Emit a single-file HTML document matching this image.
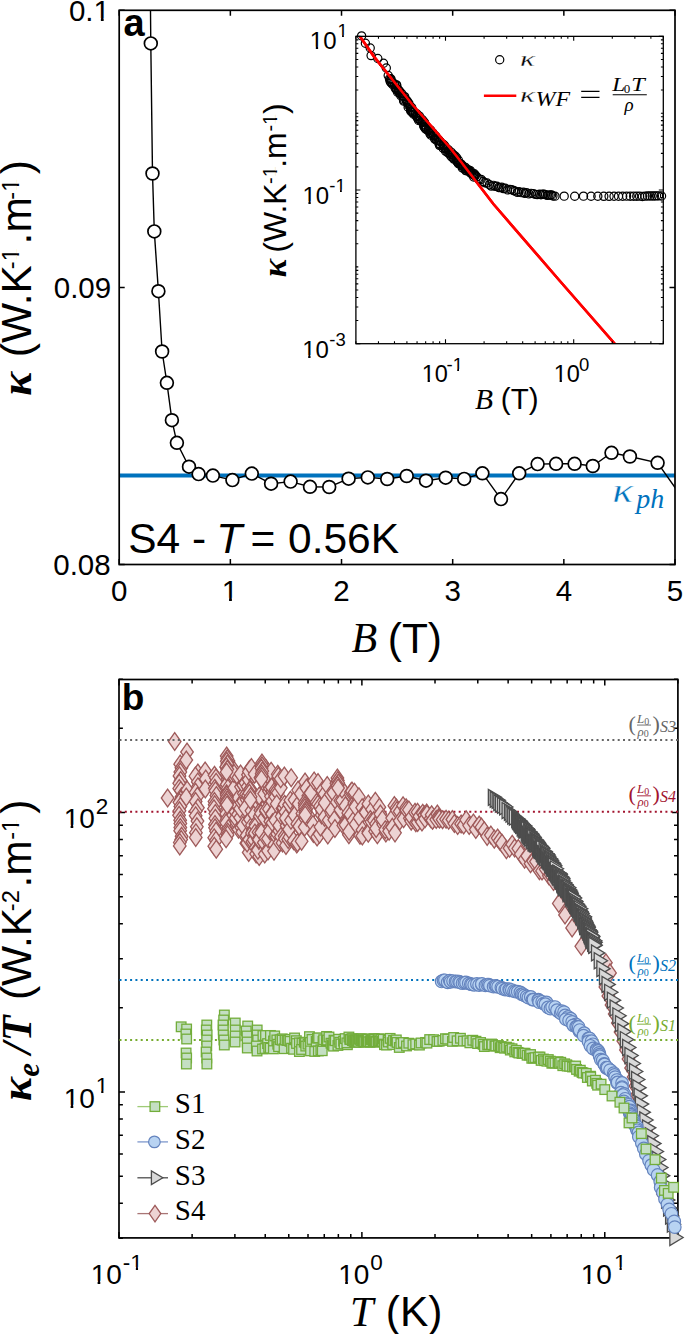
<!DOCTYPE html><html><head><meta charset="utf-8"><style>html,body{margin:0;padding:0;background:#fff;}svg{display:block;}</style></head><body>
<svg width="685" height="1334" viewBox="0 0 685 1334">
<rect x="0" y="0" width="685" height="1334" fill="#fff"/>
<defs><clipPath id="ca"><rect x="119.2" y="10.3" width="555.8" height="554.2"/></clipPath></defs>
<line x1="119.2" y1="475.5" x2="675" y2="475.5" stroke="#0072BD" stroke-width="4"/>
<polyline clip-path="url(#ca)" fill="none" stroke="#000" stroke-width="1.4" points="150.4,0 150.8,43.4 152.5,173.5 154.3,231.4 158.4,291.2 162.1,351.5 166.9,382.8 171.9,420.2 176.9,442.8 189,466.7 198.6,474.1 212.9,475.6 232.4,480.1 251.8,473.6 271.1,483.7 290.6,481.6 310,486.8 329.2,487 348.6,478.7 367.8,477.4 387.2,479 406.7,476 426,480.7 445.7,477.7 464.2,478.9 482.4,473.3 501,499.1 519.2,473.3 537.6,464.1 556.1,463.8 574.6,463.8 592.8,466 611.5,452.8 629.9,456.5 657.6,462.8 700,523"/>
<circle cx="150.8" cy="43.4" r="6.4" fill="#fff" stroke="#000" stroke-width="1.7"/>
<circle cx="152.5" cy="173.5" r="6.4" fill="#fff" stroke="#000" stroke-width="1.7"/>
<circle cx="154.3" cy="231.4" r="6.4" fill="#fff" stroke="#000" stroke-width="1.7"/>
<circle cx="158.4" cy="291.2" r="6.4" fill="#fff" stroke="#000" stroke-width="1.7"/>
<circle cx="162.1" cy="351.5" r="6.4" fill="#fff" stroke="#000" stroke-width="1.7"/>
<circle cx="166.9" cy="382.8" r="6.4" fill="#fff" stroke="#000" stroke-width="1.7"/>
<circle cx="171.9" cy="420.2" r="6.4" fill="#fff" stroke="#000" stroke-width="1.7"/>
<circle cx="176.9" cy="442.8" r="6.4" fill="#fff" stroke="#000" stroke-width="1.7"/>
<circle cx="189" cy="466.7" r="6.4" fill="#fff" stroke="#000" stroke-width="1.7"/>
<circle cx="198.6" cy="474.1" r="6.4" fill="#fff" stroke="#000" stroke-width="1.7"/>
<circle cx="212.9" cy="475.6" r="6.4" fill="#fff" stroke="#000" stroke-width="1.7"/>
<circle cx="232.4" cy="480.1" r="6.4" fill="#fff" stroke="#000" stroke-width="1.7"/>
<circle cx="251.8" cy="473.6" r="6.4" fill="#fff" stroke="#000" stroke-width="1.7"/>
<circle cx="271.1" cy="483.7" r="6.4" fill="#fff" stroke="#000" stroke-width="1.7"/>
<circle cx="290.6" cy="481.6" r="6.4" fill="#fff" stroke="#000" stroke-width="1.7"/>
<circle cx="310" cy="486.8" r="6.4" fill="#fff" stroke="#000" stroke-width="1.7"/>
<circle cx="329.2" cy="487" r="6.4" fill="#fff" stroke="#000" stroke-width="1.7"/>
<circle cx="348.6" cy="478.7" r="6.4" fill="#fff" stroke="#000" stroke-width="1.7"/>
<circle cx="367.8" cy="477.4" r="6.4" fill="#fff" stroke="#000" stroke-width="1.7"/>
<circle cx="387.2" cy="479" r="6.4" fill="#fff" stroke="#000" stroke-width="1.7"/>
<circle cx="406.7" cy="476" r="6.4" fill="#fff" stroke="#000" stroke-width="1.7"/>
<circle cx="426" cy="480.7" r="6.4" fill="#fff" stroke="#000" stroke-width="1.7"/>
<circle cx="445.7" cy="477.7" r="6.4" fill="#fff" stroke="#000" stroke-width="1.7"/>
<circle cx="464.2" cy="478.9" r="6.4" fill="#fff" stroke="#000" stroke-width="1.7"/>
<circle cx="482.4" cy="473.3" r="6.4" fill="#fff" stroke="#000" stroke-width="1.7"/>
<circle cx="501" cy="499.1" r="6.4" fill="#fff" stroke="#000" stroke-width="1.7"/>
<circle cx="519.2" cy="473.3" r="6.4" fill="#fff" stroke="#000" stroke-width="1.7"/>
<circle cx="537.6" cy="464.1" r="6.4" fill="#fff" stroke="#000" stroke-width="1.7"/>
<circle cx="556.1" cy="463.8" r="6.4" fill="#fff" stroke="#000" stroke-width="1.7"/>
<circle cx="574.6" cy="463.8" r="6.4" fill="#fff" stroke="#000" stroke-width="1.7"/>
<circle cx="592.8" cy="466" r="6.4" fill="#fff" stroke="#000" stroke-width="1.7"/>
<circle cx="611.5" cy="452.8" r="6.4" fill="#fff" stroke="#000" stroke-width="1.7"/>
<circle cx="629.9" cy="456.5" r="6.4" fill="#fff" stroke="#000" stroke-width="1.7"/>
<circle cx="657.6" cy="462.8" r="6.4" fill="#fff" stroke="#000" stroke-width="1.7"/>
<rect x="119.2" y="10.3" width="555.8" height="554.2" fill="none" stroke="#000" stroke-width="1.7"/>
<path d="M119.2 564.5V559M119.2 10.3V15.8M230.36 564.5V559M230.36 10.3V15.8M341.52 564.5V559M341.52 10.3V15.8M452.68 564.5V559M452.68 10.3V15.8M563.84 564.5V559M563.84 10.3V15.8M675 564.5V559M675 10.3V15.8M119.2 564.5H124.7M675 564.5H669.5M119.2 287.4H124.7M675 287.4H669.5M119.2 10.3H124.7M675 10.3H669.5" stroke="#000" stroke-width="1.5" fill="none"/>
<text x="111.00" y="600.80" font-family='"Liberation Sans", sans-serif' font-size="29.5" fill="#000">0</text>
<text x="221.75" y="600.80" font-family='"Liberation Sans", sans-serif' font-size="29.5" fill="#000">1</text><path d="M222.80 597.80H229.07V601.90H222.80z M231.88 597.80H237.91V601.90H231.88z" fill="#fff"/>
<text x="333.32" y="600.80" font-family='"Liberation Sans", sans-serif' font-size="29.5" fill="#000">2</text>
<text x="444.56" y="600.80" font-family='"Liberation Sans", sans-serif' font-size="29.5" fill="#000">3</text>
<text x="555.73" y="600.80" font-family='"Liberation Sans", sans-serif' font-size="29.5" fill="#000">4</text>
<text x="666.83" y="600.80" font-family='"Liberation Sans", sans-serif' font-size="29.5" fill="#000">5</text>
<text x="68.95" y="21.00" font-family='"Liberation Sans", sans-serif' font-size="29.5" fill="#000">0.1</text><path d="M94.59 18.00H100.87V22.10H94.59z M103.67 18.00H109.71V22.10H103.67z" fill="#fff"/>
<text x="53.75" y="298.20" font-family='"Liberation Sans", sans-serif' font-size="29.5" fill="#000">0.09</text>
<text x="53.25" y="575.30" font-family='"Liberation Sans", sans-serif' font-size="29.5" fill="#000">0.08</text>
<text x="351.51" y="652.20" font-family='"Liberation Serif", serif' font-size="42" fill="#000" font-style="italic">B</text>
<text x="387.76" y="652.50" font-family='"Liberation Sans", sans-serif' font-size="42.5" fill="#000">(T)</text>
<g transform="translate(30.60,0) rotate(-90)"><text x="-395.71" y="0.00" font-family='"Liberation Serif", serif' font-size="45" fill="#000" font-weight="bold" font-style="italic">κ</text><text x="-357.24" y="0.00" font-family='"Liberation Sans", sans-serif' font-size="42.5" fill="#000">(W.K</text><text x="-269.14" y="-11.40" font-family='"Liberation Sans", sans-serif' font-size="23.5" fill="#000">-1</text><path d="M-260.73 -13.96H-255.51V-10.30H-260.73z M-253.23 -13.96H-248.20V-10.30H-253.23z" fill="#fff"/><text x="-244.38" y="0.00" font-family='"Liberation Sans", sans-serif' font-size="42.5" fill="#000">.m</text><text x="-199.64" y="-11.40" font-family='"Liberation Sans", sans-serif' font-size="23.5" fill="#000">-1</text><path d="M-191.23 -13.96H-186.01V-10.30H-191.23z M-183.73 -13.96H-178.70V-10.30H-183.73z" fill="#fff"/><text x="-174.25" y="0.00" font-family='"Liberation Sans", sans-serif' font-size="42.5" fill="#000">)</text></g>
<text x="123.49" y="35.60" font-family='"Liberation Sans", sans-serif' font-size="38" fill="#000" font-weight="bold">a</text>
<text transform="translate(612.20,502) scale(1.18,0.9)" x="0" y="0" stroke="#fff" stroke-width="0.5" font-family='"Liberation Serif", serif' font-size="37" fill="#0072BD" font-style="italic">κ</text>
<text x="636.14" y="508.20" font-family='"Liberation Serif", serif' font-size="28" fill="#0072BD" font-style="italic">ph</text>
<text x="128.17" y="553.10" font-family='"Liberation Sans", sans-serif' font-size="42.5" fill="#000">S4 -</text>
<text x="216.18" y="553.10" font-family='"Liberation Sans", sans-serif' font-size="42.5" fill="#000" font-style="italic">T</text>
<text x="250.42" y="553.10" font-family='"Liberation Sans", sans-serif' font-size="42.5" fill="#000">=</text>
<text x="288.04" y="553.10" font-family='"Liberation Sans", sans-serif' font-size="42.5" fill="#000">0.56K</text>
<rect x="355.9" y="36.35" width="307.4" height="307.35" fill="#fff"/>
<defs><clipPath id="ci"><rect x="355.9" y="36.35" width="307.4" height="307.35"/></clipPath></defs>
<g clip-path="url(#ci)"><polyline fill="none" stroke="#FF0000" stroke-width="2.6" points="360,36.5 374,56.6 411.9,104 449.9,147.6 460,160.5 493.4,204 559.9,281 615,344 640,373"/></g>
<g fill="none" stroke="#000" stroke-width="1.2">
<circle cx="361.6" cy="35.9" r="4.1"/>
<circle cx="365.4" cy="43.3" r="4.1"/>
<circle cx="370.2" cy="48" r="4.1"/>
<circle cx="371.1" cy="55.6" r="4.1"/>
<circle cx="377.8" cy="58.5" r="4.1"/>
<circle cx="383.5" cy="63.2" r="4.1"/>
<circle cx="386.3" cy="68" r="4.1"/>
<circle cx="388.2" cy="75.5" r="4.1"/>
<circle cx="389.51" cy="78.91" r="4.1"/>
<circle cx="390.09" cy="81.29" r="4.1"/>
<circle cx="390.61" cy="82.12" r="4.1"/>
<circle cx="390.84" cy="78.72" r="4.1"/>
<circle cx="390.9" cy="79.5" r="4.1"/>
<circle cx="391.25" cy="82.83" r="4.1"/>
<circle cx="392.51" cy="84.33" r="4.1"/>
<circle cx="392.62" cy="82.59" r="4.1"/>
<circle cx="394.36" cy="83.83" r="4.1"/>
<circle cx="394.99" cy="85.08" r="4.1"/>
<circle cx="395.17" cy="88.1" r="4.1"/>
<circle cx="396.03" cy="88.31" r="4.1"/>
<circle cx="396.39" cy="89.65" r="4.1"/>
<circle cx="396.63" cy="84.94" r="4.1"/>
<circle cx="396.67" cy="85.75" r="4.1"/>
<circle cx="397.57" cy="92.13" r="4.1"/>
<circle cx="398.28" cy="89.49" r="4.1"/>
<circle cx="398.54" cy="90.46" r="4.1"/>
<circle cx="399.26" cy="92.99" r="4.1"/>
<circle cx="399.73" cy="91.35" r="4.1"/>
<circle cx="400.25" cy="93.56" r="4.1"/>
<circle cx="400.82" cy="95.72" r="4.1"/>
<circle cx="401.69" cy="93.48" r="4.1"/>
<circle cx="402.21" cy="95.97" r="4.1"/>
<circle cx="403.5" cy="100.09" r="4.1"/>
<circle cx="403.52" cy="96.55" r="4.1"/>
<circle cx="403.54" cy="98.51" r="4.1"/>
<circle cx="403.75" cy="101.14" r="4.1"/>
<circle cx="404.7" cy="96.65" r="4.1"/>
<circle cx="406.41" cy="100.38" r="4.1"/>
<circle cx="407.32" cy="102.08" r="4.1"/>
<circle cx="407.33" cy="100.98" r="4.1"/>
<circle cx="407.62" cy="103.21" r="4.1"/>
<circle cx="408.16" cy="107.18" r="4.1"/>
<circle cx="408.66" cy="105.32" r="4.1"/>
<circle cx="408.89" cy="103.39" r="4.1"/>
<circle cx="410.45" cy="106.76" r="4.1"/>
<circle cx="410.64" cy="110.88" r="4.1"/>
<circle cx="411" cy="109.15" r="4.1"/>
<circle cx="411.61" cy="111.21" r="4.1"/>
<circle cx="411.71" cy="111.94" r="4.1"/>
<circle cx="411.73" cy="107.47" r="4.1"/>
<circle cx="412.6" cy="112.6" r="4.1"/>
<circle cx="413.66" cy="114.15" r="4.1"/>
<circle cx="413.78" cy="112.55" r="4.1"/>
<circle cx="415.52" cy="113.73" r="4.1"/>
<circle cx="416.25" cy="116.12" r="4.1"/>
<circle cx="417.01" cy="116.57" r="4.1"/>
<circle cx="417.01" cy="113.99" r="4.1"/>
<circle cx="417.67" cy="118.38" r="4.1"/>
<circle cx="418.28" cy="118.79" r="4.1"/>
<circle cx="418.68" cy="120.55" r="4.1"/>
<circle cx="419.42" cy="116.08" r="4.1"/>
<circle cx="419.84" cy="118.64" r="4.1"/>
<circle cx="420.24" cy="120.35" r="4.1"/>
<circle cx="421.91" cy="121.53" r="4.1"/>
<circle cx="422.46" cy="119.72" r="4.1"/>
<circle cx="422.98" cy="121.92" r="4.1"/>
<circle cx="423.71" cy="126.04" r="4.1"/>
<circle cx="423.97" cy="121.85" r="4.1"/>
<circle cx="423.98" cy="124.73" r="4.1"/>
<circle cx="424.23" cy="126.9" r="4.1"/>
<circle cx="424.6" cy="122.76" r="4.1"/>
<circle cx="425.01" cy="127.02" r="4.1"/>
<circle cx="425.23" cy="128.47" r="4.1"/>
<circle cx="425.8" cy="127.23" r="4.1"/>
<circle cx="425.93" cy="128.74" r="4.1"/>
<circle cx="426.23" cy="129.54" r="4.1"/>
<circle cx="428.02" cy="130.42" r="4.1"/>
<circle cx="428.61" cy="129.08" r="4.1"/>
<circle cx="428.84" cy="130.77" r="4.1"/>
<circle cx="429.84" cy="133.56" r="4.1"/>
<circle cx="430.32" cy="132" r="4.1"/>
<circle cx="430.59" cy="130.15" r="4.1"/>
<circle cx="430.95" cy="133.44" r="4.1"/>
<circle cx="430.95" cy="135.25" r="4.1"/>
<circle cx="432.76" cy="132.88" r="4.1"/>
<circle cx="433.13" cy="135.02" r="4.1"/>
<circle cx="433.59" cy="135.48" r="4.1"/>
<circle cx="433.91" cy="135.95" r="4.1"/>
<circle cx="434.62" cy="138.31" r="4.1"/>
<circle cx="434.88" cy="139.15" r="4.1"/>
<circle cx="435.63" cy="136.13" r="4.1"/>
<circle cx="436.59" cy="139.14" r="4.1"/>
<circle cx="436.72" cy="140.45" r="4.1"/>
<circle cx="438.51" cy="139.88" r="4.1"/>
<circle cx="439.08" cy="143.85" r="4.1"/>
<circle cx="439.42" cy="140.74" r="4.1"/>
<circle cx="439.47" cy="145.37" r="4.1"/>
<circle cx="440.02" cy="144.25" r="4.1"/>
<circle cx="440.04" cy="141.67" r="4.1"/>
<circle cx="440.59" cy="145.3" r="4.1"/>
<circle cx="443" cy="147.89" r="4.1"/>
<circle cx="443.18" cy="144.35" r="4.1"/>
<circle cx="443.39" cy="148.39" r="4.1"/>
<circle cx="443.68" cy="144.94" r="4.1"/>
<circle cx="444.53" cy="145.69" r="4.1"/>
<circle cx="445.02" cy="147.84" r="4.1"/>
<circle cx="445.55" cy="151.09" r="4.1"/>
<circle cx="446.37" cy="148.09" r="4.1"/>
<circle cx="446.42" cy="149.08" r="4.1"/>
<circle cx="447.73" cy="152.77" r="4.1"/>
<circle cx="448.49" cy="149.83" r="4.1"/>
<circle cx="448.75" cy="150.9" r="4.1"/>
<circle cx="448.86" cy="153.12" r="4.1"/>
<circle cx="450.29" cy="154.19" r="4.1"/>
<circle cx="450.73" cy="156.02" r="4.1"/>
<circle cx="451.34" cy="152.35" r="4.1"/>
<circle cx="451.91" cy="157.11" r="4.1"/>
<circle cx="451.96" cy="154.22" r="4.1"/>
<circle cx="453.3" cy="154.65" r="4.1"/>
<circle cx="453.84" cy="159.11" r="4.1"/>
<circle cx="453.85" cy="158.01" r="4.1"/>
<circle cx="454.95" cy="155.91" r="4.1"/>
<circle cx="455.93" cy="159.2" r="4.1"/>
<circle cx="456.45" cy="160.18" r="4.1"/>
<circle cx="456.52" cy="157.53" r="4.1"/>
<circle cx="457.13" cy="161.79" r="4.1"/>
<circle cx="457.58" cy="162.3" r="4.1"/>
<circle cx="458.24" cy="162.87" r="4.1"/>
<circle cx="458.28" cy="160.02" r="4.1"/>
<circle cx="458.43" cy="163.7" r="4.1"/>
<circle cx="459.8" cy="163.9" r="4.1"/>
<circle cx="461" cy="163.89" r="4.1"/>
<circle cx="461.3" cy="164.98" r="4.1"/>
<circle cx="462.29" cy="165.51" r="4.1"/>
<circle cx="462.29" cy="167.95" r="4.1"/>
<circle cx="462.94" cy="166.01" r="4.1"/>
<circle cx="463.07" cy="166.54" r="4.1"/>
<circle cx="463.47" cy="168.23" r="4.1"/>
<circle cx="465.06" cy="168.97" r="4.1"/>
<circle cx="465.56" cy="167.48" r="4.1"/>
<circle cx="465.73" cy="170.59" r="4.1"/>
<circle cx="466.28" cy="168.97" r="4.1"/>
<circle cx="466.73" cy="170.76" r="4.1"/>
<circle cx="468.65" cy="170.91" r="4.1"/>
<circle cx="468.66" cy="169.94" r="4.1"/>
<circle cx="470.03" cy="171.81" r="4.1"/>
<circle cx="470.32" cy="170.67" r="4.1"/>
<circle cx="470.33" cy="172.52" r="4.1"/>
<circle cx="470.83" cy="173.21" r="4.1"/>
<circle cx="471.49" cy="173.63" r="4.1"/>
<circle cx="472.88" cy="173.76" r="4.1"/>
<circle cx="473.67" cy="177.04" r="4.1"/>
<circle cx="473.7" cy="175.08" r="4.1"/>
<circle cx="474.3" cy="173.82" r="4.1"/>
<circle cx="475.25" cy="175.08" r="4.1"/>
<circle cx="475.27" cy="175.81" r="4.1"/>
<circle cx="476.84" cy="176.73" r="4.1"/>
<circle cx="478.87" cy="179.07" r="4.1"/>
<circle cx="481.16" cy="179.41" r="4.1"/>
<circle cx="483.25" cy="181.47" r="4.1"/>
<circle cx="484.7" cy="182.7" r="4.1"/>
<circle cx="487.07" cy="183.07" r="4.1"/>
<circle cx="489.42" cy="184.69" r="4.1"/>
<circle cx="491.25" cy="186.1" r="4.1"/>
<circle cx="493.47" cy="185.34" r="4.1"/>
<circle cx="495.24" cy="186.36" r="4.1"/>
<circle cx="496.92" cy="186.27" r="4.1"/>
<circle cx="498.57" cy="187.53" r="4.1"/>
<circle cx="499.89" cy="187.59" r="4.1"/>
<circle cx="501.67" cy="187.19" r="4.1"/>
<circle cx="503.34" cy="188.58" r="4.1"/>
<circle cx="505.2" cy="188.15" r="4.1"/>
<circle cx="507.58" cy="189.89" r="4.1"/>
<circle cx="509.95" cy="189.38" r="4.1"/>
<circle cx="511.54" cy="189.67" r="4.1"/>
<circle cx="513.7" cy="190.57" r="4.1"/>
<circle cx="515.14" cy="191.17" r="4.1"/>
<circle cx="517.45" cy="192.38" r="4.1"/>
<circle cx="519.03" cy="191.63" r="4.1"/>
<circle cx="521.34" cy="192.66" r="4.1"/>
<circle cx="523.41" cy="192.2" r="4.1"/>
<circle cx="524.78" cy="193.36" r="4.1"/>
<circle cx="526.54" cy="192.64" r="4.1"/>
<circle cx="528.88" cy="193.89" r="4.1"/>
<circle cx="531.06" cy="193.34" r="4.1"/>
<circle cx="533.3" cy="193.62" r="4.1"/>
<circle cx="535.55" cy="194.35" r="4.1"/>
<circle cx="537.22" cy="194.59" r="4.1"/>
<circle cx="539.54" cy="194.24" r="4.1"/>
<circle cx="540.98" cy="194.73" r="4.1"/>
<circle cx="542.55" cy="194.13" r="4.1"/>
<circle cx="544.02" cy="194.11" r="4.1"/>
<circle cx="545.55" cy="194.6" r="4.1"/>
<circle cx="547.18" cy="195.4" r="4.1"/>
<circle cx="548.8" cy="195.13" r="4.1"/>
<circle cx="550.3" cy="195.05" r="4.1"/>
<circle cx="551.62" cy="195.05" r="4.1"/>
<circle cx="552.93" cy="195.97" r="4.1"/>
<circle cx="554.96" cy="196.14" r="4.1"/>
<circle cx="564.18" cy="196.16" r="4.1"/>
<circle cx="574.71" cy="196.22" r="4.1"/>
<circle cx="583.52" cy="196.13" r="4.1"/>
<circle cx="591.08" cy="196.28" r="4.1"/>
<circle cx="597.81" cy="196.25" r="4.1"/>
<circle cx="603.77" cy="196.32" r="4.1"/>
<circle cx="609.11" cy="196.32" r="4.1"/>
<circle cx="614.03" cy="196.2" r="4.1"/>
<circle cx="618.51" cy="196.19" r="4.1"/>
<circle cx="622.69" cy="196.21" r="4.1"/>
<circle cx="626.6" cy="196.17" r="4.1"/>
<circle cx="630.22" cy="196.23" r="4.1"/>
<circle cx="633.68" cy="196.19" r="4.1"/>
<circle cx="636.75" cy="196.21" r="4.1"/>
<circle cx="639.61" cy="196.13" r="4.1"/>
<circle cx="642.39" cy="196.5" r="4.1"/>
<circle cx="644.99" cy="196.13" r="4.1"/>
<circle cx="647.49" cy="195.99" r="4.1"/>
<circle cx="649.9" cy="195.99" r="4.1"/>
<circle cx="652.21" cy="195.99" r="4.1"/>
<circle cx="654.39" cy="196.02" r="4.1"/>
<circle cx="656.55" cy="195.83" r="4.1"/>
<circle cx="658.59" cy="195.88" r="4.1"/>
<circle cx="661.53" cy="195.97" r="4.1"/>
</g>
<g clip-path="url(#ci)"><polyline fill="none" stroke="#FF0000" stroke-width="2.6" points="360,36.5 374,56.6 411.9,104 449.9,147.6 460,160.5 493.4,204 559.9,281 615,344 640,373"/></g>
<rect x="355.9" y="36.35" width="307.4" height="307.35" fill="none" stroke="#000" stroke-width="1.3"/>
<path d="M355.9 343.7V341.3M355.9 36.35V38.75M378.47 343.7V341.3M378.47 36.35V38.75M394.49 343.7V341.3M394.49 36.35V38.75M406.91 343.7V341.3M406.91 36.35V38.75M417.06 343.7V341.3M417.06 36.35V38.75M425.65 343.7V341.3M425.65 36.35V38.75M433.08 343.7V341.3M433.08 36.35V38.75M439.64 343.7V341.3M439.64 36.35V38.75M445.5 343.7V339.2M445.5 36.35V40.85M484.09 343.7V341.3M484.09 36.35V38.75M506.67 343.7V341.3M506.67 36.35V38.75M522.68 343.7V341.3M522.68 36.35V38.75M535.11 343.7V341.3M535.11 36.35V38.75M545.26 343.7V341.3M545.26 36.35V38.75M553.84 343.7V341.3M553.84 36.35V38.75M561.27 343.7V341.3M561.27 36.35V38.75M567.83 343.7V341.3M567.83 36.35V38.75M573.7 343.7V339.2M573.7 36.35V40.85M612.29 343.7V341.3M612.29 36.35V38.75M634.86 343.7V341.3M634.86 36.35V38.75M650.88 343.7V341.3M650.88 36.35V38.75M663.3 343.7V341.3M663.3 36.35V38.75M355.9 343.7H360.4M663.3 343.7H658.8M355.9 320.57H358.3M663.3 320.57H660.9M355.9 307.04H358.3M663.3 307.04H660.9M355.9 297.44H358.3M663.3 297.44H660.9M355.9 289.99H358.3M663.3 289.99H660.9M355.9 283.91H358.3M663.3 283.91H660.9M355.9 278.76H358.3M663.3 278.76H660.9M355.9 274.31H358.3M663.3 274.31H660.9M355.9 270.38H358.3M663.3 270.38H660.9M355.9 266.86H358.3M663.3 266.86H660.9M355.9 266.86H358.3M663.3 266.86H660.9M355.9 243.73H358.3M663.3 243.73H660.9M355.9 230.2H358.3M663.3 230.2H660.9M355.9 220.6H358.3M663.3 220.6H660.9M355.9 213.16H358.3M663.3 213.16H660.9M355.9 207.07H358.3M663.3 207.07H660.9M355.9 201.93H358.3M663.3 201.93H660.9M355.9 197.47H358.3M663.3 197.47H660.9M355.9 193.54H358.3M663.3 193.54H660.9M355.9 190.02H358.3M663.3 190.02H660.9M355.9 190.02H360.4M663.3 190.02H658.8M355.9 166.89H358.3M663.3 166.89H660.9M355.9 153.36H358.3M663.3 153.36H660.9M355.9 143.76H358.3M663.3 143.76H660.9M355.9 136.32H358.3M663.3 136.32H660.9M355.9 130.23H358.3M663.3 130.23H660.9M355.9 125.09H358.3M663.3 125.09H660.9M355.9 120.63H358.3M663.3 120.63H660.9M355.9 116.7H358.3M663.3 116.7H660.9M355.9 113.19H358.3M663.3 113.19H660.9M355.9 113.19H358.3M663.3 113.19H660.9M355.9 90.06H358.3M663.3 90.06H660.9M355.9 76.53H358.3M663.3 76.53H660.9M355.9 66.93H358.3M663.3 66.93H660.9M355.9 59.48H358.3M663.3 59.48H660.9M355.9 53.4H358.3M663.3 53.4H660.9M355.9 48.25H358.3M663.3 48.25H660.9M355.9 43.8H358.3M663.3 43.8H660.9M355.9 39.87H358.3M663.3 39.87H660.9M355.9 36.35H360.4M663.3 36.35H658.8" stroke="#000" stroke-width="1.1" fill="none"/>
<text x="309.87" y="49.30" font-family='"Liberation Sans", sans-serif' font-size="24" fill="#000">10</text><path d="M310.50 46.71H315.81V50.40H310.50z M318.13 46.71H323.24V50.40H318.13z" fill="#fff"/><text x="337.49" y="37.20" font-family='"Liberation Sans", sans-serif' font-size="18.5" fill="#000">1</text><path d="M337.70 35.02H342.04V38.30H337.70z M343.88 35.02H348.07V38.30H343.88z" fill="#fff"/>
<text x="302.47" y="203.90" font-family='"Liberation Sans", sans-serif' font-size="24" fill="#000">10</text><path d="M303.10 201.31H308.41V205.00H303.10z M310.73 201.31H315.84V205.00H310.73z" fill="#fff"/><text x="329.28" y="192.00" font-family='"Liberation Sans", sans-serif' font-size="18.5" fill="#000">-1</text><path d="M335.64 189.82H339.99V193.10H335.64z M341.82 189.82H346.02V193.10H341.82z" fill="#fff"/>
<text x="302.27" y="357.50" font-family='"Liberation Sans", sans-serif' font-size="24" fill="#000">10</text><path d="M302.90 354.91H308.21V358.60H302.90z M310.53 354.91H315.64V358.60H310.53z" fill="#fff"/><text x="329.28" y="345.60" font-family='"Liberation Sans", sans-serif' font-size="18.5" fill="#000">-3</text>
<text x="421.81" y="382.30" font-family='"Liberation Sans", sans-serif' font-size="23.5" fill="#000">10</text><path d="M422.40 379.74H427.62V383.40H422.40z M429.90 379.74H434.92V383.40H429.90z" fill="#fff"/><text x="446.48" y="371.30" font-family='"Liberation Sans", sans-serif' font-size="18.5" fill="#000">-1</text><path d="M452.84 369.12H457.19V372.40H452.84z M459.02 369.12H463.22V372.40H459.02z" fill="#fff"/>
<text x="553.81" y="382.30" font-family='"Liberation Sans", sans-serif' font-size="23.5" fill="#000">10</text><path d="M554.40 379.74H559.62V383.40H554.40z M561.90 379.74H566.92V383.40H561.90z" fill="#fff"/><text x="579.08" y="371.30" font-family='"Liberation Sans", sans-serif' font-size="18.5" fill="#000">0</text>
<text x="475.03" y="409.00" font-family='"Liberation Serif", serif' font-size="29.5" fill="#000" font-style="italic">B</text>
<text x="500.87" y="409.00" font-family='"Liberation Sans", sans-serif' font-size="29.5" fill="#000">(T)</text>
<g transform="translate(285.80,0) rotate(-90)"><text x="-277.27" y="0.00" font-family='"Liberation Serif", serif' font-size="34.5" fill="#000" font-weight="bold" font-style="italic">κ</text><text x="-252.68" y="0.00" font-family='"Liberation Sans", sans-serif' font-size="32" fill="#000">(W.K</text><text x="-183.99" y="-8.40" font-family='"Liberation Sans", sans-serif' font-size="20" fill="#000">-1</text><path d="M-177.01 -10.69H-172.40V-7.30H-177.01z M-170.43 -10.69H-165.99V-7.30H-170.43z" fill="#fff"/><text x="-167.82" y="0.00" font-family='"Liberation Sans", sans-serif' font-size="32" fill="#000">.m</text><text x="-131.59" y="-8.40" font-family='"Liberation Sans", sans-serif' font-size="20" fill="#000">-1</text><path d="M-124.61 -10.69H-120.00V-7.30H-124.61z M-118.03 -10.69H-113.59V-7.30H-118.03z" fill="#fff"/><text x="-114.09" y="0.00" font-family='"Liberation Sans", sans-serif' font-size="32" fill="#000">)</text></g>
<circle cx="499.7" cy="59.7" r="4.1" fill="none" stroke="#000" stroke-width="1.2"/>
<text transform="translate(520.0,66.3) scale(1.3,0.88)" x="0" y="0" stroke="#fff" stroke-width="0.3" font-family='"Liberation Serif", serif' font-size="24" fill="#000" font-style="italic">κ</text>
<line x1="483.9" y1="95.7" x2="516.3" y2="95.7" stroke="#FF0000" stroke-width="2.4"/>
<text transform="translate(520.0,101.7) scale(1.3,0.88)" x="0" y="0" stroke="#fff" stroke-width="0.3" font-family='"Liberation Serif", serif' font-size="24" fill="#000" font-style="italic">κ</text>
<text x="535.5" y="105.5" font-family='"Liberation Serif", serif' font-size="20" fill="#000" font-style="italic" textLength="34.5" lengthAdjust="spacingAndGlyphs">WF</text>
<path d="M581.2 91.3H599.5M581.2 97.4H599.5" stroke="#000" stroke-width="1.2"/>
<text x="612.3" y="91.2" font-family='"Liberation Serif", serif' font-size="19" fill="#000" font-style="italic" textLength="13" lengthAdjust="spacingAndGlyphs">L</text>
<text x="623.70" y="93.40" font-family='"Liberation Serif", serif' font-size="13" fill="#000">0</text>
<text x="631.2" y="91.2" font-family='"Liberation Serif", serif' font-size="19" fill="#000" font-style="italic" textLength="13.5" lengthAdjust="spacingAndGlyphs">T</text>
<line x1="612.7" y1="94.7" x2="646.8" y2="94.7" stroke="#000" stroke-width="1.1"/>
<text x="624.48" y="110.50" font-family='"Liberation Serif", serif' font-size="19" fill="#000" font-style="italic">ρ</text>
<defs><clipPath id="cb"><rect x="119" y="679.5" width="558.9" height="558.4"/></clipPath></defs>
<rect x="119" y="679.5" width="558.9" height="558.4" fill="none" stroke="#000" stroke-width="1.7"/>
<path d="M119 1237.9V1231.9M119 679.5V685.5M192.12 1237.9V1234M192.12 679.5V683.4M234.89 1237.9V1234M234.89 679.5V683.4M265.24 1237.9V1234M265.24 679.5V683.4M288.77 1237.9V1234M288.77 679.5V683.4M308.01 1237.9V1234M308.01 679.5V683.4M324.27 1237.9V1234M324.27 679.5V683.4M338.35 1237.9V1234M338.35 679.5V683.4M350.78 1237.9V1234M350.78 679.5V683.4M361.89 1237.9V1231.9M361.89 679.5V685.5M435.01 1237.9V1234M435.01 679.5V683.4M477.78 1237.9V1234M477.78 679.5V683.4M508.13 1237.9V1234M508.13 679.5V683.4M531.66 1237.9V1234M531.66 679.5V683.4M550.9 1237.9V1234M550.9 679.5V683.4M567.16 1237.9V1234M567.16 679.5V683.4M581.24 1237.9V1234M581.24 679.5V683.4M593.67 1237.9V1234M593.67 679.5V683.4M604.78 1237.9V1231.9M604.78 679.5V685.5M677.9 1237.9V1234M677.9 679.5V683.4M119 1238.14H122.9M677.9 1238.14H674M119 1203.22H122.9M677.9 1203.22H674M119 1176.14H122.9M677.9 1176.14H674M119 1154.01H122.9M677.9 1154.01H674M119 1135.3H122.9M677.9 1135.3H674M119 1119.09H122.9M677.9 1119.09H674M119 1104.79H122.9M677.9 1104.79H674M119 1092H125M677.9 1092H671.9M119 1007.86H122.9M677.9 1007.86H674M119 958.64H122.9M677.9 958.64H674M119 923.72H122.9M677.9 923.72H674M119 896.64H122.9M677.9 896.64H674M119 874.51H122.9M677.9 874.51H674M119 855.8H122.9M677.9 855.8H674M119 839.59H122.9M677.9 839.59H674M119 825.29H122.9M677.9 825.29H674M119 812.5H125M677.9 812.5H671.9M119 728.36H122.9M677.9 728.36H674M119 679.14H122.9M677.9 679.14H674" stroke="#000" stroke-width="1.5" fill="none"/>
<line x1="119.5" y1="811.7" x2="677.9" y2="811.7" stroke="#A2142F" stroke-width="2" stroke-dasharray="2 3.3"/>
<g><g fill="#EDD3D3" stroke="#9E5A5A" stroke-width="1.3">
<path d="M174.7 732.6l6.3 8.9l-6.3 8.9l-6.3 -8.9z"/>
<path d="M167.6 789.1l6.3 8.9l-6.3 8.9l-6.3 -8.9z"/>
<path d="M180.18 755.24l6.3 8.9l-6.3 8.9l-6.3 -8.9z"/>
<path d="M181.4 758.97l6.3 8.9l-6.3 8.9l-6.3 -8.9z"/>
<path d="M180.32 763.21l6.3 8.9l-6.3 8.9l-6.3 -8.9z"/>
<path d="M179.48 766.99l6.3 8.9l-6.3 8.9l-6.3 -8.9z"/>
<path d="M180.64 771.6l6.3 8.9l-6.3 8.9l-6.3 -8.9z"/>
<path d="M179.24 774.4l6.3 8.9l-6.3 8.9l-6.3 -8.9z"/>
<path d="M179.24 779.55l6.3 8.9l-6.3 8.9l-6.3 -8.9z"/>
<path d="M180.8 781.68l6.3 8.9l-6.3 8.9l-6.3 -8.9z"/>
<path d="M181.55 787.82l6.3 8.9l-6.3 8.9l-6.3 -8.9z"/>
<path d="M180.7 790.95l6.3 8.9l-6.3 8.9l-6.3 -8.9z"/>
<path d="M179.41 793.47l6.3 8.9l-6.3 8.9l-6.3 -8.9z"/>
<path d="M180.37 797.53l6.3 8.9l-6.3 8.9l-6.3 -8.9z"/>
<path d="M179.49 801.92l6.3 8.9l-6.3 8.9l-6.3 -8.9z"/>
<path d="M179.08 806.4l6.3 8.9l-6.3 8.9l-6.3 -8.9z"/>
<path d="M180.15 811.25l6.3 8.9l-6.3 8.9l-6.3 -8.9z"/>
<path d="M180.35 814.72l6.3 8.9l-6.3 8.9l-6.3 -8.9z"/>
<path d="M180.3 818.72l6.3 8.9l-6.3 8.9l-6.3 -8.9z"/>
<path d="M180.19 821.76l6.3 8.9l-6.3 8.9l-6.3 -8.9z"/>
<path d="M181.59 827.42l6.3 8.9l-6.3 8.9l-6.3 -8.9z"/>
<path d="M181.18 830.69l6.3 8.9l-6.3 8.9l-6.3 -8.9z"/>
<path d="M179.82 833.51l6.3 8.9l-6.3 8.9l-6.3 -8.9z"/>
<path d="M179.75 837.08l6.3 8.9l-6.3 8.9l-6.3 -8.9z"/>
<path d="M187.03 743.1l6.3 8.9l-6.3 8.9l-6.3 -8.9z"/>
<path d="M186.3 751.1l6.3 8.9l-6.3 8.9l-6.3 -8.9z"/>
<path d="M187.19 781.1l6.3 8.9l-6.3 8.9l-6.3 -8.9z"/>
<path d="M186.27 788.1l6.3 8.9l-6.3 8.9l-6.3 -8.9z"/>
<path d="M197.89 764.14l6.3 8.9l-6.3 8.9l-6.3 -8.9z"/>
<path d="M195.4 767.23l6.3 8.9l-6.3 8.9l-6.3 -8.9z"/>
<path d="M197.77 773.01l6.3 8.9l-6.3 8.9l-6.3 -8.9z"/>
<path d="M197.95 777.79l6.3 8.9l-6.3 8.9l-6.3 -8.9z"/>
<path d="M195.59 783.49l6.3 8.9l-6.3 8.9l-6.3 -8.9z"/>
<path d="M197.42 787.41l6.3 8.9l-6.3 8.9l-6.3 -8.9z"/>
<path d="M195.63 792.6l6.3 8.9l-6.3 8.9l-6.3 -8.9z"/>
<path d="M197.91 798.87l6.3 8.9l-6.3 8.9l-6.3 -8.9z"/>
<path d="M195.71 802.34l6.3 8.9l-6.3 8.9l-6.3 -8.9z"/>
<path d="M195.66 806.78l6.3 8.9l-6.3 8.9l-6.3 -8.9z"/>
<path d="M197.47 812.13l6.3 8.9l-6.3 8.9l-6.3 -8.9z"/>
<path d="M196.85 817.94l6.3 8.9l-6.3 8.9l-6.3 -8.9z"/>
<path d="M195.9 823.8l6.3 8.9l-6.3 8.9l-6.3 -8.9z"/>
<path d="M195.74 828.53l6.3 8.9l-6.3 8.9l-6.3 -8.9z"/>
<path d="M205.13 762.1l6.3 8.9l-6.3 8.9l-6.3 -8.9z"/>
<path d="M205.74 770.1l6.3 8.9l-6.3 8.9l-6.3 -8.9z"/>
<path d="M205.33 780.1l6.3 8.9l-6.3 8.9l-6.3 -8.9z"/>
<path d="M214.5 766.36l6.3 8.9l-6.3 8.9l-6.3 -8.9z"/>
<path d="M215.89 769.05l6.3 8.9l-6.3 8.9l-6.3 -8.9z"/>
<path d="M216.1 773.27l6.3 8.9l-6.3 8.9l-6.3 -8.9z"/>
<path d="M214.83 779.46l6.3 8.9l-6.3 8.9l-6.3 -8.9z"/>
<path d="M215.47 781.91l6.3 8.9l-6.3 8.9l-6.3 -8.9z"/>
<path d="M216.37 786.68l6.3 8.9l-6.3 8.9l-6.3 -8.9z"/>
<path d="M214.47 792.65l6.3 8.9l-6.3 8.9l-6.3 -8.9z"/>
<path d="M214.66 795.85l6.3 8.9l-6.3 8.9l-6.3 -8.9z"/>
<path d="M213.99 799.77l6.3 8.9l-6.3 8.9l-6.3 -8.9z"/>
<path d="M215.32 804.65l6.3 8.9l-6.3 8.9l-6.3 -8.9z"/>
<path d="M215.36 809.46l6.3 8.9l-6.3 8.9l-6.3 -8.9z"/>
<path d="M214.98 815.51l6.3 8.9l-6.3 8.9l-6.3 -8.9z"/>
<path d="M215.06 818.95l6.3 8.9l-6.3 8.9l-6.3 -8.9z"/>
<path d="M216.05 822.37l6.3 8.9l-6.3 8.9l-6.3 -8.9z"/>
<path d="M214.2 828.78l6.3 8.9l-6.3 8.9l-6.3 -8.9z"/>
<path d="M215.93 831.49l6.3 8.9l-6.3 8.9l-6.3 -8.9z"/>
<path d="M214.29 837.27l6.3 8.9l-6.3 8.9l-6.3 -8.9z"/>
<path d="M216.25 840.29l6.3 8.9l-6.3 8.9l-6.3 -8.9z"/>
<path d="M228.47 752.07l6.3 8.9l-6.3 8.9l-6.3 -8.9z"/>
<path d="M227.57 755.11l6.3 8.9l-6.3 8.9l-6.3 -8.9z"/>
<path d="M226.27 758.36l6.3 8.9l-6.3 8.9l-6.3 -8.9z"/>
<path d="M228.5 763.07l6.3 8.9l-6.3 8.9l-6.3 -8.9z"/>
<path d="M227.83 767.33l6.3 8.9l-6.3 8.9l-6.3 -8.9z"/>
<path d="M228.14 772.4l6.3 8.9l-6.3 8.9l-6.3 -8.9z"/>
<path d="M226.76 775.54l6.3 8.9l-6.3 8.9l-6.3 -8.9z"/>
<path d="M227.87 779.48l6.3 8.9l-6.3 8.9l-6.3 -8.9z"/>
<path d="M226.59 784.93l6.3 8.9l-6.3 8.9l-6.3 -8.9z"/>
<path d="M228.22 789.28l6.3 8.9l-6.3 8.9l-6.3 -8.9z"/>
<path d="M226.73 794.26l6.3 8.9l-6.3 8.9l-6.3 -8.9z"/>
<path d="M226.53 796.19l6.3 8.9l-6.3 8.9l-6.3 -8.9z"/>
<path d="M226.7 801.49l6.3 8.9l-6.3 8.9l-6.3 -8.9z"/>
<path d="M226.16 805.02l6.3 8.9l-6.3 8.9l-6.3 -8.9z"/>
<path d="M226.96 810.23l6.3 8.9l-6.3 8.9l-6.3 -8.9z"/>
<path d="M226.34 813.91l6.3 8.9l-6.3 8.9l-6.3 -8.9z"/>
<path d="M228.32 819.68l6.3 8.9l-6.3 8.9l-6.3 -8.9z"/>
<path d="M227.71 823.16l6.3 8.9l-6.3 8.9l-6.3 -8.9z"/>
<path d="M227.52 825.98l6.3 8.9l-6.3 8.9l-6.3 -8.9z"/>
<path d="M226.09 829.88l6.3 8.9l-6.3 8.9l-6.3 -8.9z"/>
<path d="M233.82 803.92l6.3 8.9l-6.3 8.9l-6.3 -8.9z"/>
<path d="M233.93 761.19l6.3 8.9l-6.3 8.9l-6.3 -8.9z"/>
<path d="M233.27 790.17l6.3 8.9l-6.3 8.9l-6.3 -8.9z"/>
<path d="M233.46 779.9l6.3 8.9l-6.3 8.9l-6.3 -8.9z"/>
<path d="M234 764.58l6.3 8.9l-6.3 8.9l-6.3 -8.9z"/>
<path d="M233.09 806.19l6.3 8.9l-6.3 8.9l-6.3 -8.9z"/>
<path d="M236.32 803.98l6.3 8.9l-6.3 8.9l-6.3 -8.9z"/>
<path d="M236.44 816.58l6.3 8.9l-6.3 8.9l-6.3 -8.9z"/>
<path d="M235.55 802.87l6.3 8.9l-6.3 8.9l-6.3 -8.9z"/>
<path d="M236.65 813.96l6.3 8.9l-6.3 8.9l-6.3 -8.9z"/>
<path d="M235.68 809.16l6.3 8.9l-6.3 8.9l-6.3 -8.9z"/>
<path d="M236.58 796.17l6.3 8.9l-6.3 8.9l-6.3 -8.9z"/>
<path d="M238.05 796.99l6.3 8.9l-6.3 8.9l-6.3 -8.9z"/>
<path d="M238.51 768.38l6.3 8.9l-6.3 8.9l-6.3 -8.9z"/>
<path d="M238.57 820.36l6.3 8.9l-6.3 8.9l-6.3 -8.9z"/>
<path d="M239.05 805.27l6.3 8.9l-6.3 8.9l-6.3 -8.9z"/>
<path d="M238.06 805.66l6.3 8.9l-6.3 8.9l-6.3 -8.9z"/>
<path d="M238.45 788.89l6.3 8.9l-6.3 8.9l-6.3 -8.9z"/>
<path d="M240.21 808.61l6.3 8.9l-6.3 8.9l-6.3 -8.9z"/>
<path d="M240.1 799.83l6.3 8.9l-6.3 8.9l-6.3 -8.9z"/>
<path d="M241.01 777.94l6.3 8.9l-6.3 8.9l-6.3 -8.9z"/>
<path d="M241.44 793.69l6.3 8.9l-6.3 8.9l-6.3 -8.9z"/>
<path d="M241.27 818.65l6.3 8.9l-6.3 8.9l-6.3 -8.9z"/>
<path d="M240.56 765.04l6.3 8.9l-6.3 8.9l-6.3 -8.9z"/>
<path d="M243.35 776.45l6.3 8.9l-6.3 8.9l-6.3 -8.9z"/>
<path d="M242.34 823.13l6.3 8.9l-6.3 8.9l-6.3 -8.9z"/>
<path d="M243.32 792.34l6.3 8.9l-6.3 8.9l-6.3 -8.9z"/>
<path d="M243.78 784.71l6.3 8.9l-6.3 8.9l-6.3 -8.9z"/>
<path d="M243.33 776.18l6.3 8.9l-6.3 8.9l-6.3 -8.9z"/>
<path d="M242.86 816.51l6.3 8.9l-6.3 8.9l-6.3 -8.9z"/>
<path d="M246.63 790.71l6.3 8.9l-6.3 8.9l-6.3 -8.9z"/>
<path d="M246.03 785.46l6.3 8.9l-6.3 8.9l-6.3 -8.9z"/>
<path d="M245.14 799.37l6.3 8.9l-6.3 8.9l-6.3 -8.9z"/>
<path d="M246.54 826.6l6.3 8.9l-6.3 8.9l-6.3 -8.9z"/>
<path d="M246.29 834.43l6.3 8.9l-6.3 8.9l-6.3 -8.9z"/>
<path d="M245.42 774.07l6.3 8.9l-6.3 8.9l-6.3 -8.9z"/>
<path d="M247.59 777.79l6.3 8.9l-6.3 8.9l-6.3 -8.9z"/>
<path d="M247.87 813.01l6.3 8.9l-6.3 8.9l-6.3 -8.9z"/>
<path d="M248.03 786.45l6.3 8.9l-6.3 8.9l-6.3 -8.9z"/>
<path d="M248.72 843.5l6.3 8.9l-6.3 8.9l-6.3 -8.9z"/>
<path d="M247.95 765.86l6.3 8.9l-6.3 8.9l-6.3 -8.9z"/>
<path d="M247.11 834.16l6.3 8.9l-6.3 8.9l-6.3 -8.9z"/>
<path d="M250.02 810.59l6.3 8.9l-6.3 8.9l-6.3 -8.9z"/>
<path d="M249.22 830.8l6.3 8.9l-6.3 8.9l-6.3 -8.9z"/>
<path d="M248.64 770.81l6.3 8.9l-6.3 8.9l-6.3 -8.9z"/>
<path d="M249.52 760.64l6.3 8.9l-6.3 8.9l-6.3 -8.9z"/>
<path d="M250.27 780.1l6.3 8.9l-6.3 8.9l-6.3 -8.9z"/>
<path d="M248.89 762.67l6.3 8.9l-6.3 8.9l-6.3 -8.9z"/>
<path d="M251.94 816.28l6.3 8.9l-6.3 8.9l-6.3 -8.9z"/>
<path d="M252.36 832.81l6.3 8.9l-6.3 8.9l-6.3 -8.9z"/>
<path d="M252.97 821.36l6.3 8.9l-6.3 8.9l-6.3 -8.9z"/>
<path d="M251.45 801.86l6.3 8.9l-6.3 8.9l-6.3 -8.9z"/>
<path d="M251.41 758.59l6.3 8.9l-6.3 8.9l-6.3 -8.9z"/>
<path d="M251.99 824.13l6.3 8.9l-6.3 8.9l-6.3 -8.9z"/>
<path d="M253.36 789.41l6.3 8.9l-6.3 8.9l-6.3 -8.9z"/>
<path d="M254.21 805.71l6.3 8.9l-6.3 8.9l-6.3 -8.9z"/>
<path d="M254.05 827.71l6.3 8.9l-6.3 8.9l-6.3 -8.9z"/>
<path d="M253.61 831.05l6.3 8.9l-6.3 8.9l-6.3 -8.9z"/>
<path d="M254.63 765.28l6.3 8.9l-6.3 8.9l-6.3 -8.9z"/>
<path d="M254.68 824.56l6.3 8.9l-6.3 8.9l-6.3 -8.9z"/>
<path d="M255.42 815.18l6.3 8.9l-6.3 8.9l-6.3 -8.9z"/>
<path d="M256.33 791.94l6.3 8.9l-6.3 8.9l-6.3 -8.9z"/>
<path d="M255.65 838.9l6.3 8.9l-6.3 8.9l-6.3 -8.9z"/>
<path d="M256.11 844.97l6.3 8.9l-6.3 8.9l-6.3 -8.9z"/>
<path d="M255.44 817.59l6.3 8.9l-6.3 8.9l-6.3 -8.9z"/>
<path d="M254.92 824.19l6.3 8.9l-6.3 8.9l-6.3 -8.9z"/>
<path d="M258.52 823.28l6.3 8.9l-6.3 8.9l-6.3 -8.9z"/>
<path d="M257.67 840.36l6.3 8.9l-6.3 8.9l-6.3 -8.9z"/>
<path d="M259.2 847.61l6.3 8.9l-6.3 8.9l-6.3 -8.9z"/>
<path d="M258.32 830.13l6.3 8.9l-6.3 8.9l-6.3 -8.9z"/>
<path d="M257.88 841.29l6.3 8.9l-6.3 8.9l-6.3 -8.9z"/>
<path d="M258.95 788.69l6.3 8.9l-6.3 8.9l-6.3 -8.9z"/>
<path d="M259.75 807.26l6.3 8.9l-6.3 8.9l-6.3 -8.9z"/>
<path d="M260.4 801.37l6.3 8.9l-6.3 8.9l-6.3 -8.9z"/>
<path d="M258.92 831.55l6.3 8.9l-6.3 8.9l-6.3 -8.9z"/>
<path d="M258.99 830.68l6.3 8.9l-6.3 8.9l-6.3 -8.9z"/>
<path d="M259.21 787.06l6.3 8.9l-6.3 8.9l-6.3 -8.9z"/>
<path d="M260.44 768.82l6.3 8.9l-6.3 8.9l-6.3 -8.9z"/>
<path d="M261.62 823.19l6.3 8.9l-6.3 8.9l-6.3 -8.9z"/>
<path d="M262.27 819.98l6.3 8.9l-6.3 8.9l-6.3 -8.9z"/>
<path d="M262.48 801.49l6.3 8.9l-6.3 8.9l-6.3 -8.9z"/>
<path d="M262.49 763.29l6.3 8.9l-6.3 8.9l-6.3 -8.9z"/>
<path d="M261.03 804.69l6.3 8.9l-6.3 8.9l-6.3 -8.9z"/>
<path d="M261.17 823.69l6.3 8.9l-6.3 8.9l-6.3 -8.9z"/>
<path d="M264.09 833.67l6.3 8.9l-6.3 8.9l-6.3 -8.9z"/>
<path d="M264.17 784.92l6.3 8.9l-6.3 8.9l-6.3 -8.9z"/>
<path d="M263.81 833.82l6.3 8.9l-6.3 8.9l-6.3 -8.9z"/>
<path d="M264.85 775.44l6.3 8.9l-6.3 8.9l-6.3 -8.9z"/>
<path d="M264.75 845.11l6.3 8.9l-6.3 8.9l-6.3 -8.9z"/>
<path d="M264.1 808.87l6.3 8.9l-6.3 8.9l-6.3 -8.9z"/>
<path d="M265.92 802.53l6.3 8.9l-6.3 8.9l-6.3 -8.9z"/>
<path d="M266.06 759.95l6.3 8.9l-6.3 8.9l-6.3 -8.9z"/>
<path d="M266.79 803.68l6.3 8.9l-6.3 8.9l-6.3 -8.9z"/>
<path d="M265.65 829.21l6.3 8.9l-6.3 8.9l-6.3 -8.9z"/>
<path d="M265.97 801.45l6.3 8.9l-6.3 8.9l-6.3 -8.9z"/>
<path d="M266.23 763.37l6.3 8.9l-6.3 8.9l-6.3 -8.9z"/>
<path d="M267.98 842.04l6.3 8.9l-6.3 8.9l-6.3 -8.9z"/>
<path d="M269 782.28l6.3 8.9l-6.3 8.9l-6.3 -8.9z"/>
<path d="M268.1 769.92l6.3 8.9l-6.3 8.9l-6.3 -8.9z"/>
<path d="M268.02 829.77l6.3 8.9l-6.3 8.9l-6.3 -8.9z"/>
<path d="M268.96 800.3l6.3 8.9l-6.3 8.9l-6.3 -8.9z"/>
<path d="M267.79 775.52l6.3 8.9l-6.3 8.9l-6.3 -8.9z"/>
<path d="M271.43 771.27l6.3 8.9l-6.3 8.9l-6.3 -8.9z"/>
<path d="M271.14 762.3l6.3 8.9l-6.3 8.9l-6.3 -8.9z"/>
<path d="M269.97 779.49l6.3 8.9l-6.3 8.9l-6.3 -8.9z"/>
<path d="M270.96 787.47l6.3 8.9l-6.3 8.9l-6.3 -8.9z"/>
<path d="M270.29 812.5l6.3 8.9l-6.3 8.9l-6.3 -8.9z"/>
<path d="M269.79 821.85l6.3 8.9l-6.3 8.9l-6.3 -8.9z"/>
<path d="M272.29 782l6.3 8.9l-6.3 8.9l-6.3 -8.9z"/>
<path d="M271.66 804.99l6.3 8.9l-6.3 8.9l-6.3 -8.9z"/>
<path d="M272.14 792.29l6.3 8.9l-6.3 8.9l-6.3 -8.9z"/>
<path d="M272.09 804.91l6.3 8.9l-6.3 8.9l-6.3 -8.9z"/>
<path d="M271.59 778.2l6.3 8.9l-6.3 8.9l-6.3 -8.9z"/>
<path d="M272.53 813.87l6.3 8.9l-6.3 8.9l-6.3 -8.9z"/>
<path d="M275.26 811.46l6.3 8.9l-6.3 8.9l-6.3 -8.9z"/>
<path d="M275.28 781.33l6.3 8.9l-6.3 8.9l-6.3 -8.9z"/>
<path d="M275.04 827.27l6.3 8.9l-6.3 8.9l-6.3 -8.9z"/>
<path d="M275.37 787.94l6.3 8.9l-6.3 8.9l-6.3 -8.9z"/>
<path d="M274.19 836.2l6.3 8.9l-6.3 8.9l-6.3 -8.9z"/>
<path d="M274 842.21l6.3 8.9l-6.3 8.9l-6.3 -8.9z"/>
<path d="M276.66 782.39l6.3 8.9l-6.3 8.9l-6.3 -8.9z"/>
<path d="M277.85 783.94l6.3 8.9l-6.3 8.9l-6.3 -8.9z"/>
<path d="M276.59 828.18l6.3 8.9l-6.3 8.9l-6.3 -8.9z"/>
<path d="M277.24 824.92l6.3 8.9l-6.3 8.9l-6.3 -8.9z"/>
<path d="M276.64 795.01l6.3 8.9l-6.3 8.9l-6.3 -8.9z"/>
<path d="M277.76 765.27l6.3 8.9l-6.3 8.9l-6.3 -8.9z"/>
<path d="M279.56 833.69l6.3 8.9l-6.3 8.9l-6.3 -8.9z"/>
<path d="M280.13 773.26l6.3 8.9l-6.3 8.9l-6.3 -8.9z"/>
<path d="M279.21 822.06l6.3 8.9l-6.3 8.9l-6.3 -8.9z"/>
<path d="M279.2 816.56l6.3 8.9l-6.3 8.9l-6.3 -8.9z"/>
<path d="M278.57 769.85l6.3 8.9l-6.3 8.9l-6.3 -8.9z"/>
<path d="M278.41 767.34l6.3 8.9l-6.3 8.9l-6.3 -8.9z"/>
<path d="M281.55 807.48l6.3 8.9l-6.3 8.9l-6.3 -8.9z"/>
<path d="M280.81 778.97l6.3 8.9l-6.3 8.9l-6.3 -8.9z"/>
<path d="M280.93 827.63l6.3 8.9l-6.3 8.9l-6.3 -8.9z"/>
<path d="M282.5 834.07l6.3 8.9l-6.3 8.9l-6.3 -8.9z"/>
<path d="M280.71 769.87l6.3 8.9l-6.3 8.9l-6.3 -8.9z"/>
<path d="M282.42 799.57l6.3 8.9l-6.3 8.9l-6.3 -8.9z"/>
<path d="M283.82 799.91l6.3 8.9l-6.3 8.9l-6.3 -8.9z"/>
<path d="M284.2 797.24l6.3 8.9l-6.3 8.9l-6.3 -8.9z"/>
<path d="M284.37 767.11l6.3 8.9l-6.3 8.9l-6.3 -8.9z"/>
<path d="M284.57 827.18l6.3 8.9l-6.3 8.9l-6.3 -8.9z"/>
<path d="M283.53 798.97l6.3 8.9l-6.3 8.9l-6.3 -8.9z"/>
<path d="M284.65 795.45l6.3 8.9l-6.3 8.9l-6.3 -8.9z"/>
<path d="M285.29 803.13l6.3 8.9l-6.3 8.9l-6.3 -8.9z"/>
<path d="M284.99 830.14l6.3 8.9l-6.3 8.9l-6.3 -8.9z"/>
<path d="M286.57 816.76l6.3 8.9l-6.3 8.9l-6.3 -8.9z"/>
<path d="M286.68 811.42l6.3 8.9l-6.3 8.9l-6.3 -8.9z"/>
<path d="M285.77 809.3l6.3 8.9l-6.3 8.9l-6.3 -8.9z"/>
<path d="M285.97 836.49l6.3 8.9l-6.3 8.9l-6.3 -8.9z"/>
<path d="M288.19 830.51l6.3 8.9l-6.3 8.9l-6.3 -8.9z"/>
<path d="M289.16 821.32l6.3 8.9l-6.3 8.9l-6.3 -8.9z"/>
<path d="M289.3 795.64l6.3 8.9l-6.3 8.9l-6.3 -8.9z"/>
<path d="M289.46 828.34l6.3 8.9l-6.3 8.9l-6.3 -8.9z"/>
<path d="M289.06 820.58l6.3 8.9l-6.3 8.9l-6.3 -8.9z"/>
<path d="M289.2 795.64l6.3 8.9l-6.3 8.9l-6.3 -8.9z"/>
<path d="M290.39 791.28l6.3 8.9l-6.3 8.9l-6.3 -8.9z"/>
<path d="M291.19 768.82l6.3 8.9l-6.3 8.9l-6.3 -8.9z"/>
<path d="M290.96 811.42l6.3 8.9l-6.3 8.9l-6.3 -8.9z"/>
<path d="M293.65 831.77l6.3 8.9l-6.3 8.9l-6.3 -8.9z"/>
<path d="M294.52 790.87l6.3 8.9l-6.3 8.9l-6.3 -8.9z"/>
<path d="M294.51 806.49l6.3 8.9l-6.3 8.9l-6.3 -8.9z"/>
<path d="M296.77 835.09l6.3 8.9l-6.3 8.9l-6.3 -8.9z"/>
<path d="M297.27 815.08l6.3 8.9l-6.3 8.9l-6.3 -8.9z"/>
<path d="M297.51 833.77l6.3 8.9l-6.3 8.9l-6.3 -8.9z"/>
<path d="M299.25 817.39l6.3 8.9l-6.3 8.9l-6.3 -8.9z"/>
<path d="M298.54 794.89l6.3 8.9l-6.3 8.9l-6.3 -8.9z"/>
<path d="M298.12 781.14l6.3 8.9l-6.3 8.9l-6.3 -8.9z"/>
<path d="M300.78 784.75l6.3 8.9l-6.3 8.9l-6.3 -8.9z"/>
<path d="M302.4 804.59l6.3 8.9l-6.3 8.9l-6.3 -8.9z"/>
<path d="M301.6 832.26l6.3 8.9l-6.3 8.9l-6.3 -8.9z"/>
<path d="M305.43 810.13l6.3 8.9l-6.3 8.9l-6.3 -8.9z"/>
<path d="M305.06 773.15l6.3 8.9l-6.3 8.9l-6.3 -8.9z"/>
<path d="M304.63 818.11l6.3 8.9l-6.3 8.9l-6.3 -8.9z"/>
<path d="M307.37 778.71l6.3 8.9l-6.3 8.9l-6.3 -8.9z"/>
<path d="M306.45 779.31l6.3 8.9l-6.3 8.9l-6.3 -8.9z"/>
<path d="M306.5 808.02l6.3 8.9l-6.3 8.9l-6.3 -8.9z"/>
<path d="M309.48 795.46l6.3 8.9l-6.3 8.9l-6.3 -8.9z"/>
<path d="M308.65 806.81l6.3 8.9l-6.3 8.9l-6.3 -8.9z"/>
<path d="M308.32 786.82l6.3 8.9l-6.3 8.9l-6.3 -8.9z"/>
<path d="M311.7 786.59l6.3 8.9l-6.3 8.9l-6.3 -8.9z"/>
<path d="M312.01 787.38l6.3 8.9l-6.3 8.9l-6.3 -8.9z"/>
<path d="M310.6 784.17l6.3 8.9l-6.3 8.9l-6.3 -8.9z"/>
<path d="M312.95 815.7l6.3 8.9l-6.3 8.9l-6.3 -8.9z"/>
<path d="M313.42 824.54l6.3 8.9l-6.3 8.9l-6.3 -8.9z"/>
<path d="M314.14 772.08l6.3 8.9l-6.3 8.9l-6.3 -8.9z"/>
<path d="M318.01 773.74l6.3 8.9l-6.3 8.9l-6.3 -8.9z"/>
<path d="M317.93 795.25l6.3 8.9l-6.3 8.9l-6.3 -8.9z"/>
<path d="M317.08 828.1l6.3 8.9l-6.3 8.9l-6.3 -8.9z"/>
<path d="M319.54 825.21l6.3 8.9l-6.3 8.9l-6.3 -8.9z"/>
<path d="M319.93 797.34l6.3 8.9l-6.3 8.9l-6.3 -8.9z"/>
<path d="M320.45 818.04l6.3 8.9l-6.3 8.9l-6.3 -8.9z"/>
<path d="M321.62 806.1l6.3 8.9l-6.3 8.9l-6.3 -8.9z"/>
<path d="M322.31 781.62l6.3 8.9l-6.3 8.9l-6.3 -8.9z"/>
<path d="M321.5 800.51l6.3 8.9l-6.3 8.9l-6.3 -8.9z"/>
<path d="M324.47 808.22l6.3 8.9l-6.3 8.9l-6.3 -8.9z"/>
<path d="M324.49 784.98l6.3 8.9l-6.3 8.9l-6.3 -8.9z"/>
<path d="M324.75 794l6.3 8.9l-6.3 8.9l-6.3 -8.9z"/>
<path d="M327.81 826.05l6.3 8.9l-6.3 8.9l-6.3 -8.9z"/>
<path d="M328.65 811.32l6.3 8.9l-6.3 8.9l-6.3 -8.9z"/>
<path d="M327.22 776.63l6.3 8.9l-6.3 8.9l-6.3 -8.9z"/>
<path d="M331.66 804.63l6.3 8.9l-6.3 8.9l-6.3 -8.9z"/>
<path d="M330.81 785.36l6.3 8.9l-6.3 8.9l-6.3 -8.9z"/>
<path d="M331.46 801.35l6.3 8.9l-6.3 8.9l-6.3 -8.9z"/>
<path d="M334.24 810.97l6.3 8.9l-6.3 8.9l-6.3 -8.9z"/>
<path d="M333.35 784.09l6.3 8.9l-6.3 8.9l-6.3 -8.9z"/>
<path d="M334.93 819.62l6.3 8.9l-6.3 8.9l-6.3 -8.9z"/>
<path d="M336.37 774.41l6.3 8.9l-6.3 8.9l-6.3 -8.9z"/>
<path d="M336.83 793.33l6.3 8.9l-6.3 8.9l-6.3 -8.9z"/>
<path d="M337.54 776.57l6.3 8.9l-6.3 8.9l-6.3 -8.9z"/>
<path d="M339.25 777.13l6.3 8.9l-6.3 8.9l-6.3 -8.9z"/>
<path d="M340.46 800.92l6.3 8.9l-6.3 8.9l-6.3 -8.9z"/>
<path d="M340.37 791.82l6.3 8.9l-6.3 8.9l-6.3 -8.9z"/>
<path d="M342.24 791.49l6.3 8.9l-6.3 8.9l-6.3 -8.9z"/>
<path d="M343.31 816.52l6.3 8.9l-6.3 8.9l-6.3 -8.9z"/>
<path d="M341.97 780.16l6.3 8.9l-6.3 8.9l-6.3 -8.9z"/>
<path d="M346.28 814.05l6.3 8.9l-6.3 8.9l-6.3 -8.9z"/>
<path d="M345.46 796.89l6.3 8.9l-6.3 8.9l-6.3 -8.9z"/>
<path d="M345.55 816.09l6.3 8.9l-6.3 8.9l-6.3 -8.9z"/>
<path d="M348.9 825.73l6.3 8.9l-6.3 8.9l-6.3 -8.9z"/>
<path d="M348.24 804.06l6.3 8.9l-6.3 8.9l-6.3 -8.9z"/>
<path d="M349.08 822.37l6.3 8.9l-6.3 8.9l-6.3 -8.9z"/>
<path d="M350.97 783.14l6.3 8.9l-6.3 8.9l-6.3 -8.9z"/>
<path d="M351.98 782.24l6.3 8.9l-6.3 8.9l-6.3 -8.9z"/>
<path d="M350.4 805.82l6.3 8.9l-6.3 8.9l-6.3 -8.9z"/>
<path d="M354.33 794.15l6.3 8.9l-6.3 8.9l-6.3 -8.9z"/>
<path d="M354.51 783.48l6.3 8.9l-6.3 8.9l-6.3 -8.9z"/>
<path d="M353.39 811.54l6.3 8.9l-6.3 8.9l-6.3 -8.9z"/>
<path d="M355.69 815.28l6.3 8.9l-6.3 8.9l-6.3 -8.9z"/>
<path d="M356.47 794.33l6.3 8.9l-6.3 8.9l-6.3 -8.9z"/>
<path d="M355.37 797.88l6.3 8.9l-6.3 8.9l-6.3 -8.9z"/>
<path d="M358.9 787.99l6.3 8.9l-6.3 8.9l-6.3 -8.9z"/>
<path d="M359.59 809.06l6.3 8.9l-6.3 8.9l-6.3 -8.9z"/>
<path d="M360.01 826.35l6.3 8.9l-6.3 8.9l-6.3 -8.9z"/>
<path d="M362.42 821.04l6.3 8.9l-6.3 8.9l-6.3 -8.9z"/>
<path d="M362.15 798.81l6.3 8.9l-6.3 8.9l-6.3 -8.9z"/>
<path d="M362.34 827.07l6.3 8.9l-6.3 8.9l-6.3 -8.9z"/>
<path d="M365.38 802.25l6.3 8.9l-6.3 8.9l-6.3 -8.9z"/>
<path d="M365.61 802.33l6.3 8.9l-6.3 8.9l-6.3 -8.9z"/>
<path d="M365.67 803.42l6.3 8.9l-6.3 8.9l-6.3 -8.9z"/>
<path d="M368.3 822.58l6.3 8.9l-6.3 8.9l-6.3 -8.9z"/>
<path d="M368.26 824.33l6.3 8.9l-6.3 8.9l-6.3 -8.9z"/>
<path d="M368.3 795.01l6.3 8.9l-6.3 8.9l-6.3 -8.9z"/>
<path d="M372.08 800.52l6.3 8.9l-6.3 8.9l-6.3 -8.9z"/>
<path d="M370.36 810.67l6.3 8.9l-6.3 8.9l-6.3 -8.9z"/>
<path d="M371.4 812.92l6.3 8.9l-6.3 8.9l-6.3 -8.9z"/>
<path d="M375.07 822.41l6.3 8.9l-6.3 8.9l-6.3 -8.9z"/>
<path d="M373.89 811.67l6.3 8.9l-6.3 8.9l-6.3 -8.9z"/>
<path d="M375.34 792.37l6.3 8.9l-6.3 8.9l-6.3 -8.9z"/>
<path d="M377.36 825.79l6.3 8.9l-6.3 8.9l-6.3 -8.9z"/>
<path d="M376.06 815.01l6.3 8.9l-6.3 8.9l-6.3 -8.9z"/>
<path d="M376.17 819.55l6.3 8.9l-6.3 8.9l-6.3 -8.9z"/>
<path d="M379.35 798.33l6.3 8.9l-6.3 8.9l-6.3 -8.9z"/>
<path d="M380.39 810.16l6.3 8.9l-6.3 8.9l-6.3 -8.9z"/>
<path d="M380.39 805.16l6.3 8.9l-6.3 8.9l-6.3 -8.9z"/>
<path d="M383.3 815.67l6.3 8.9l-6.3 8.9l-6.3 -8.9z"/>
<path d="M382.35 810.53l6.3 8.9l-6.3 8.9l-6.3 -8.9z"/>
<path d="M385.86 824.05l6.3 8.9l-6.3 8.9l-6.3 -8.9z"/>
<path d="M385.27 820.8l6.3 8.9l-6.3 8.9l-6.3 -8.9z"/>
<path d="M389.15 819.38l6.3 8.9l-6.3 8.9l-6.3 -8.9z"/>
<path d="M389.12 822.28l6.3 8.9l-6.3 8.9l-6.3 -8.9z"/>
<path d="M392.16 809.15l6.3 8.9l-6.3 8.9l-6.3 -8.9z"/>
<path d="M392.3 818.47l6.3 8.9l-6.3 8.9l-6.3 -8.9z"/>
<path d="M394.36 796.73l6.3 8.9l-6.3 8.9l-6.3 -8.9z"/>
<path d="M395 823.96l6.3 8.9l-6.3 8.9l-6.3 -8.9z"/>
<path d="M396.42 799.05l6.3 8.9l-6.3 8.9l-6.3 -8.9z"/>
<path d="M396.93 801.71l6.3 8.9l-6.3 8.9l-6.3 -8.9z"/>
<path d="M399.65 802.6l6.3 8.9l-6.3 8.9l-6.3 -8.9z"/>
<path d="M399.76 811.96l6.3 8.9l-6.3 8.9l-6.3 -8.9z"/>
<path d="M403.06 796.79l6.3 8.9l-6.3 8.9l-6.3 -8.9z"/>
<path d="M403.62 809.86l6.3 8.9l-6.3 8.9l-6.3 -8.9z"/>
<path d="M406.14 798.87l6.3 8.9l-6.3 8.9l-6.3 -8.9z"/>
<path d="M406.43 801.3l6.3 8.9l-6.3 8.9l-6.3 -8.9z"/>
<path d="M409.85 809.46l6.3 8.9l-6.3 8.9l-6.3 -8.9z"/>
<path d="M408.86 801.08l6.3 8.9l-6.3 8.9l-6.3 -8.9z"/>
<path d="M411.18 812.2l6.3 8.9l-6.3 8.9l-6.3 -8.9z"/>
<path d="M411.46 808.32l6.3 8.9l-6.3 8.9l-6.3 -8.9z"/>
<path d="M415.02 803.48l6.3 8.9l-6.3 8.9l-6.3 -8.9z"/>
<path d="M415.84 813.9l6.3 8.9l-6.3 8.9l-6.3 -8.9z"/>
<path d="M417.67 813.57l6.3 8.9l-6.3 8.9l-6.3 -8.9z"/>
<path d="M417.54 803.31l6.3 8.9l-6.3 8.9l-6.3 -8.9z"/>
<path d="M420.55 810.82l6.3 8.9l-6.3 8.9l-6.3 -8.9z"/>
<path d="M419.42 807.45l6.3 8.9l-6.3 8.9l-6.3 -8.9z"/>
<path d="M421.97 812.99l6.3 8.9l-6.3 8.9l-6.3 -8.9z"/>
<path d="M422.74 804.32l6.3 8.9l-6.3 8.9l-6.3 -8.9z"/>
<path d="M424.39 806.12l6.3 8.9l-6.3 8.9l-6.3 -8.9z"/>
<path d="M425.03 809.91l6.3 8.9l-6.3 8.9l-6.3 -8.9z"/>
<path d="M426.66 804.22l6.3 8.9l-6.3 8.9l-6.3 -8.9z"/>
<path d="M426.99 805.3l6.3 8.9l-6.3 8.9l-6.3 -8.9z"/>
<path d="M430.69 809.52l6.3 8.9l-6.3 8.9l-6.3 -8.9z"/>
<path d="M431.64 805.86l6.3 8.9l-6.3 8.9l-6.3 -8.9z"/>
<path d="M432.76 810.96l6.3 8.9l-6.3 8.9l-6.3 -8.9z"/>
<path d="M432.46 811.44l6.3 8.9l-6.3 8.9l-6.3 -8.9z"/>
<path d="M437.37 805.16l6.3 8.9l-6.3 8.9l-6.3 -8.9z"/>
<path d="M436.26 810.65l6.3 8.9l-6.3 8.9l-6.3 -8.9z"/>
<path d="M438.83 808.73l6.3 8.9l-6.3 8.9l-6.3 -8.9z"/>
<path d="M439.78 809.7l6.3 8.9l-6.3 8.9l-6.3 -8.9z"/>
<path d="M226.66 747.1l6.3 8.9l-6.3 8.9l-6.3 -8.9z"/>
<path d="M227.25 749.77l6.3 8.9l-6.3 8.9l-6.3 -8.9z"/>
<path d="M226.8 752.43l6.3 8.9l-6.3 8.9l-6.3 -8.9z"/>
<path d="M227.4 755.1l6.3 8.9l-6.3 8.9l-6.3 -8.9z"/>
<path d="M226.41 757.77l6.3 8.9l-6.3 8.9l-6.3 -8.9z"/>
<path d="M227.29 760.43l6.3 8.9l-6.3 8.9l-6.3 -8.9z"/>
<path d="M226.55 763.1l6.3 8.9l-6.3 8.9l-6.3 -8.9z"/>
<path d="M261.95 754.1l6.3 8.9l-6.3 8.9l-6.3 -8.9z"/>
<path d="M261.93 756.77l6.3 8.9l-6.3 8.9l-6.3 -8.9z"/>
<path d="M261.49 759.43l6.3 8.9l-6.3 8.9l-6.3 -8.9z"/>
<path d="M262.3 762.1l6.3 8.9l-6.3 8.9l-6.3 -8.9z"/>
<path d="M261.67 764.77l6.3 8.9l-6.3 8.9l-6.3 -8.9z"/>
<path d="M261.67 767.43l6.3 8.9l-6.3 8.9l-6.3 -8.9z"/>
<path d="M261.39 770.1l6.3 8.9l-6.3 8.9l-6.3 -8.9z"/>
<path d="M226.67 786.1l6.3 8.9l-6.3 8.9l-6.3 -8.9z"/>
<path d="M226.86 788.6l6.3 8.9l-6.3 8.9l-6.3 -8.9z"/>
<path d="M227.16 791.1l6.3 8.9l-6.3 8.9l-6.3 -8.9z"/>
<path d="M226.73 793.6l6.3 8.9l-6.3 8.9l-6.3 -8.9z"/>
<path d="M227.12 796.1l6.3 8.9l-6.3 8.9l-6.3 -8.9z"/>
<path d="M304.53 794.1l6.3 8.9l-6.3 8.9l-6.3 -8.9z"/>
<path d="M304.87 796.5l6.3 8.9l-6.3 8.9l-6.3 -8.9z"/>
<path d="M304.95 798.9l6.3 8.9l-6.3 8.9l-6.3 -8.9z"/>
<path d="M305.56 801.3l6.3 8.9l-6.3 8.9l-6.3 -8.9z"/>
<path d="M305.4 803.7l6.3 8.9l-6.3 8.9l-6.3 -8.9z"/>
<path d="M305.18 806.1l6.3 8.9l-6.3 8.9l-6.3 -8.9z"/>
<path d="M337.41 769.1l6.3 8.9l-6.3 8.9l-6.3 -8.9z"/>
<path d="M337.85 771.6l6.3 8.9l-6.3 8.9l-6.3 -8.9z"/>
<path d="M338.25 774.1l6.3 8.9l-6.3 8.9l-6.3 -8.9z"/>
<path d="M337.68 776.6l6.3 8.9l-6.3 8.9l-6.3 -8.9z"/>
<path d="M338.08 779.1l6.3 8.9l-6.3 8.9l-6.3 -8.9z"/>
<path d="M249.95 781.1l6.3 8.9l-6.3 8.9l-6.3 -8.9z"/>
<path d="M249.41 784.43l6.3 8.9l-6.3 8.9l-6.3 -8.9z"/>
<path d="M250.59 787.77l6.3 8.9l-6.3 8.9l-6.3 -8.9z"/>
<path d="M250.36 791.1l6.3 8.9l-6.3 8.9l-6.3 -8.9z"/>
<path d="M439.41 810.03l6.3 8.9l-6.3 8.9l-6.3 -8.9z"/>
<path d="M442.58 810.81l6.3 8.9l-6.3 8.9l-6.3 -8.9z"/>
<path d="M446.08 810.44l6.3 8.9l-6.3 8.9l-6.3 -8.9z"/>
<path d="M448.67 811.44l6.3 8.9l-6.3 8.9l-6.3 -8.9z"/>
<path d="M452.33 810.6l6.3 8.9l-6.3 8.9l-6.3 -8.9z"/>
<path d="M454.4 814.65l6.3 8.9l-6.3 8.9l-6.3 -8.9z"/>
<path d="M457.66 816.61l6.3 8.9l-6.3 8.9l-6.3 -8.9z"/>
<path d="M461.13 815.09l6.3 8.9l-6.3 8.9l-6.3 -8.9z"/>
<path d="M463.66 816.17l6.3 8.9l-6.3 8.9l-6.3 -8.9z"/>
<path d="M466.18 810.93l6.3 8.9l-6.3 8.9l-6.3 -8.9z"/>
<path d="M469.19 816.61l6.3 8.9l-6.3 8.9l-6.3 -8.9z"/>
<path d="M473.42 814.02l6.3 8.9l-6.3 8.9l-6.3 -8.9z"/>
<path d="M475.8 820.67l6.3 8.9l-6.3 8.9l-6.3 -8.9z"/>
<path d="M479.19 816.14l6.3 8.9l-6.3 8.9l-6.3 -8.9z"/>
<path d="M481.45 818.24l6.3 8.9l-6.3 8.9l-6.3 -8.9z"/>
<path d="M484.25 821.79l6.3 8.9l-6.3 8.9l-6.3 -8.9z"/>
<path d="M487.15 827.46l6.3 8.9l-6.3 8.9l-6.3 -8.9z"/>
<path d="M490.85 826.19l6.3 8.9l-6.3 8.9l-6.3 -8.9z"/>
<path d="M494.29 830.23l6.3 8.9l-6.3 8.9l-6.3 -8.9z"/>
<path d="M497.64 829.19l6.3 8.9l-6.3 8.9l-6.3 -8.9z"/>
<path d="M499.66 831.97l6.3 8.9l-6.3 8.9l-6.3 -8.9z"/>
<path d="M502.03 834.45l6.3 8.9l-6.3 8.9l-6.3 -8.9z"/>
<path d="M506.4 840.74l6.3 8.9l-6.3 8.9l-6.3 -8.9z"/>
<path d="M509.58 839.34l6.3 8.9l-6.3 8.9l-6.3 -8.9z"/>
<path d="M512.22 835.38l6.3 8.9l-6.3 8.9l-6.3 -8.9z"/>
<path d="M514.66 839.14l6.3 8.9l-6.3 8.9l-6.3 -8.9z"/>
<path d="M518.3 839.68l6.3 8.9l-6.3 8.9l-6.3 -8.9z"/>
<path d="M520.76 845.33l6.3 8.9l-6.3 8.9l-6.3 -8.9z"/>
<path d="M524.58 850.29l6.3 8.9l-6.3 8.9l-6.3 -8.9z"/>
<path d="M527.22 847.01l6.3 8.9l-6.3 8.9l-6.3 -8.9z"/>
<path d="M530.53 854.82l6.3 8.9l-6.3 8.9l-6.3 -8.9z"/>
<path d="M533.1 852.28l6.3 8.9l-6.3 8.9l-6.3 -8.9z"/>
<path d="M536 852.64l6.3 8.9l-6.3 8.9l-6.3 -8.9z"/>
<path d="M539.43 861.83l6.3 8.9l-6.3 8.9l-6.3 -8.9z"/>
<path d="M542.03 862.09l6.3 8.9l-6.3 8.9l-6.3 -8.9z"/>
<path d="M545.67 860.38l6.3 8.9l-6.3 8.9l-6.3 -8.9z"/>
<path d="M548.89 866.91l6.3 8.9l-6.3 8.9l-6.3 -8.9z"/>
<path d="M550.4 865.65l6.3 8.9l-6.3 8.9l-6.3 -8.9z"/>
<path d="M553.49 872.68l6.3 8.9l-6.3 8.9l-6.3 -8.9z"/>
<path d="M558.8 894.5l6.3 8.9l-6.3 8.9l-6.3 -8.9z"/>
<path d="M565 906.1l6.3 8.9l-6.3 8.9l-6.3 -8.9z"/>
<path d="M572.1 919l6.3 8.9l-6.3 8.9l-6.3 -8.9z"/>
<path d="M581.3 937.4l6.3 8.9l-6.3 8.9l-6.3 -8.9z"/>
<path d="M605.9 953.8l6.3 8.9l-6.3 8.9l-6.3 -8.9z"/>
<path d="M610 964l6.3 8.9l-6.3 8.9l-6.3 -8.9z"/>
<path d="M605.38 978.1l6.3 8.9l-6.3 8.9l-6.3 -8.9z"/>
<path d="M608.35 987.1l6.3 8.9l-6.3 8.9l-6.3 -8.9z"/>
<path d="M611.52 996.1l6.3 8.9l-6.3 8.9l-6.3 -8.9z"/>
<path d="M614.69 1005.1l6.3 8.9l-6.3 8.9l-6.3 -8.9z"/>
<path d="M617.8 1014.1l6.3 8.9l-6.3 8.9l-6.3 -8.9z"/>
<path d="M620.54 1023.1l6.3 8.9l-6.3 8.9l-6.3 -8.9z"/>
<path d="M623.28 1032.1l6.3 8.9l-6.3 8.9l-6.3 -8.9z"/>
<path d="M625.93 1041.1l6.3 8.9l-6.3 8.9l-6.3 -8.9z"/>
<path d="M628.5 1050.1l6.3 8.9l-6.3 8.9l-6.3 -8.9z"/>
<path d="M631.07 1059.1l6.3 8.9l-6.3 8.9l-6.3 -8.9z"/>
<path d="M633.64 1068.1l6.3 8.9l-6.3 8.9l-6.3 -8.9z"/>
<path d="M635.44 1077.1l6.3 8.9l-6.3 8.9l-6.3 -8.9z"/>
<path d="M636.84 1086.1l6.3 8.9l-6.3 8.9l-6.3 -8.9z"/>
<path d="M638.25 1095.1l6.3 8.9l-6.3 8.9l-6.3 -8.9z"/>
<path d="M639.85 1104.1l6.3 8.9l-6.3 8.9l-6.3 -8.9z"/>
<path d="M642.96 1113.1l6.3 8.9l-6.3 8.9l-6.3 -8.9z"/>
<path d="M646.08 1122.1l6.3 8.9l-6.3 8.9l-6.3 -8.9z"/>
<path d="M649.13 1131.1l6.3 8.9l-6.3 8.9l-6.3 -8.9z"/>
<path d="M651.97 1140.1l6.3 8.9l-6.3 8.9l-6.3 -8.9z"/>
<path d="M654.77 1149.1l6.3 8.9l-6.3 8.9l-6.3 -8.9z"/>
<path d="M657.17 1158.1l6.3 8.9l-6.3 8.9l-6.3 -8.9z"/>
<path d="M659.3 1167.1l6.3 8.9l-6.3 8.9l-6.3 -8.9z"/>
<path d="M661.1 1176.1l6.3 8.9l-6.3 8.9l-6.3 -8.9z"/>
<path d="M662.9 1185.1l6.3 8.9l-6.3 8.9l-6.3 -8.9z"/>
</g></g>
<line x1="119.5" y1="740" x2="677.9" y2="740" stroke="#666666" stroke-width="2" stroke-dasharray="2 3.3"/>
<line x1="119.5" y1="980" x2="677.9" y2="980" stroke="#0072BD" stroke-width="2" stroke-dasharray="2 3.3"/>
<line x1="119.5" y1="1040.1" x2="677.9" y2="1040.1" stroke="#77AC30" stroke-width="2" stroke-dasharray="2 3.3"/>
<g><g fill="#D9D9D9" stroke="#4D4D4D" stroke-width="1.3">
<path d="M488.35 789.32v16l13.3 -8z"/>
<path d="M490.23 791.38v16l13.3 -8z"/>
<path d="M492.14 792.36v16l13.3 -8z"/>
<path d="M493.78 794.64v16l13.3 -8z"/>
<path d="M495.43 796.02v16l13.3 -8z"/>
<path d="M497.56 797.39v16l13.3 -8z"/>
<path d="M499.65 798.92v16l13.3 -8z"/>
<path d="M502.09 802.53v16l13.3 -8z"/>
<path d="M504.43 804.24v16l13.3 -8z"/>
<path d="M505.98 806.15v16l13.3 -8z"/>
<path d="M507.72 808.01v16l13.3 -8z"/>
<path d="M509.41 809.18v16l13.3 -8z"/>
<path d="M511.76 811.04v16l13.3 -8z"/>
<path d="M512 811.63v16l13.3 -8z"/>
<path d="M512.49 812.66v16l13.3 -8z"/>
<path d="M512.79 812.64v16l13.3 -8z"/>
<path d="M513.11 812.87v16l13.3 -8z"/>
<path d="M513.32 813.6v16l13.3 -8z"/>
<path d="M513.58 813.09v16l13.3 -8z"/>
<path d="M513.84 814.67v16l13.3 -8z"/>
<path d="M514.21 813.66v16l13.3 -8z"/>
<path d="M514.43 815.65v16l13.3 -8z"/>
<path d="M514.92 816.21v16l13.3 -8z"/>
<path d="M515.24 815.04v16l13.3 -8z"/>
<path d="M515.65 817.41v16l13.3 -8z"/>
<path d="M516.12 816.27v16l13.3 -8z"/>
<path d="M516.42 816.13v16l13.3 -8z"/>
<path d="M516.86 816.73v16l13.3 -8z"/>
<path d="M517.18 819.82v16l13.3 -8z"/>
<path d="M517.39 817.57v16l13.3 -8z"/>
<path d="M517.79 817.86v16l13.3 -8z"/>
<path d="M518.07 820.74v16l13.3 -8z"/>
<path d="M518.3 818.25v16l13.3 -8z"/>
<path d="M518.6 818.12v16l13.3 -8z"/>
<path d="M518.94 821.59v16l13.3 -8z"/>
<path d="M519.25 822.03v16l13.3 -8z"/>
<path d="M519.69 820.44v16l13.3 -8z"/>
<path d="M520.12 820.27v16l13.3 -8z"/>
<path d="M520.38 820.95v16l13.3 -8z"/>
<path d="M520.81 820.67v16l13.3 -8z"/>
<path d="M521.05 821.45v16l13.3 -8z"/>
<path d="M521.25 824.96v16l13.3 -8z"/>
<path d="M521.53 821.43v16l13.3 -8z"/>
<path d="M521.95 826.17v16l13.3 -8z"/>
<path d="M522.3 826.26v16l13.3 -8z"/>
<path d="M522.74 827.08v16l13.3 -8z"/>
<path d="M523.19 828.39v16l13.3 -8z"/>
<path d="M523.44 823.86v16l13.3 -8z"/>
<path d="M523.84 824.26v16l13.3 -8z"/>
<path d="M524.12 828.94v16l13.3 -8z"/>
<path d="M524.52 830.08v16l13.3 -8z"/>
<path d="M524.86 825.55v16l13.3 -8z"/>
<path d="M525.06 825.7v16l13.3 -8z"/>
<path d="M525.32 826.99v16l13.3 -8z"/>
<path d="M525.68 826.53v16l13.3 -8z"/>
<path d="M526.1 831.44v16l13.3 -8z"/>
<path d="M526.34 827.58v16l13.3 -8z"/>
<path d="M526.57 831.72v16l13.3 -8z"/>
<path d="M526.92 832.9v16l13.3 -8z"/>
<path d="M527.27 829.46v16l13.3 -8z"/>
<path d="M527.51 829.07v16l13.3 -8z"/>
<path d="M527.86 829.48v16l13.3 -8z"/>
<path d="M528.07 834.59v16l13.3 -8z"/>
<path d="M528.38 834.45v16l13.3 -8z"/>
<path d="M528.72 834.58v16l13.3 -8z"/>
<path d="M529.1 834.83v16l13.3 -8z"/>
<path d="M529.47 835.5v16l13.3 -8z"/>
<path d="M529.79 831.84v16l13.3 -8z"/>
<path d="M530.22 836.2v16l13.3 -8z"/>
<path d="M530.59 833.09v16l13.3 -8z"/>
<path d="M530.9 833.24v16l13.3 -8z"/>
<path d="M531.24 833.9v16l13.3 -8z"/>
<path d="M531.62 834.57v16l13.3 -8z"/>
<path d="M532.02 835.27v16l13.3 -8z"/>
<path d="M532.44 835.19v16l13.3 -8z"/>
<path d="M532.66 840v16l13.3 -8z"/>
<path d="M532.96 836.58v16l13.3 -8z"/>
<path d="M533.34 840.42v16l13.3 -8z"/>
<path d="M533.58 841.13v16l13.3 -8z"/>
<path d="M533.77 837.4v16l13.3 -8z"/>
<path d="M534.1 842.15v16l13.3 -8z"/>
<path d="M534.32 841.41v16l13.3 -8z"/>
<path d="M534.61 842.29v16l13.3 -8z"/>
<path d="M534.99 838.33v16l13.3 -8z"/>
<path d="M535.32 839.31v16l13.3 -8z"/>
<path d="M535.56 843.15v16l13.3 -8z"/>
<path d="M535.76 839.6v16l13.3 -8z"/>
<path d="M536.07 839.94v16l13.3 -8z"/>
<path d="M536.28 844.87v16l13.3 -8z"/>
<path d="M536.53 840.39v16l13.3 -8z"/>
<path d="M536.92 845.64v16l13.3 -8z"/>
<path d="M537.21 845.5v16l13.3 -8z"/>
<path d="M537.63 845.66v16l13.3 -8z"/>
<path d="M538 847.27v16l13.3 -8z"/>
<path d="M538.3 847.36v16l13.3 -8z"/>
<path d="M538.55 847.84v16l13.3 -8z"/>
<path d="M538.83 847.49v16l13.3 -8z"/>
<path d="M539.03 843.43v16l13.3 -8z"/>
<path d="M539.4 848.75v16l13.3 -8z"/>
<path d="M539.65 848.85v16l13.3 -8z"/>
<path d="M539.95 849.69v16l13.3 -8z"/>
<path d="M540.22 846.09v16l13.3 -8z"/>
<path d="M540.41 845.64v16l13.3 -8z"/>
<path d="M540.61 845.82v16l13.3 -8z"/>
<path d="M541.01 846.63v16l13.3 -8z"/>
<path d="M541.31 846.77v16l13.3 -8z"/>
<path d="M541.59 851.6v16l13.3 -8z"/>
<path d="M541.86 847.22v16l13.3 -8z"/>
<path d="M542.09 851.54v16l13.3 -8z"/>
<path d="M542.39 852.04v16l13.3 -8z"/>
<path d="M542.82 849.04v16l13.3 -8z"/>
<path d="M543.05 852.98v16l13.3 -8z"/>
<path d="M543.4 853.42v16l13.3 -8z"/>
<path d="M543.56 853.46v16l13.3 -8z"/>
<path d="M543.8 850.74v16l13.3 -8z"/>
<path d="M544.02 854.42v16l13.3 -8z"/>
<path d="M544.37 850.99v16l13.3 -8z"/>
<path d="M544.68 856.15v16l13.3 -8z"/>
<path d="M544.9 855.88v16l13.3 -8z"/>
<path d="M545.25 852.37v16l13.3 -8z"/>
<path d="M545.51 856.48v16l13.3 -8z"/>
<path d="M545.72 856.8v16l13.3 -8z"/>
<path d="M546 857.25v16l13.3 -8z"/>
<path d="M546.25 858.26v16l13.3 -8z"/>
<path d="M546.55 854.42v16l13.3 -8z"/>
<path d="M546.85 858.76v16l13.3 -8z"/>
<path d="M547.06 859.79v16l13.3 -8z"/>
<path d="M547.3 860.36v16l13.3 -8z"/>
<path d="M547.52 860.09v16l13.3 -8z"/>
<path d="M547.69 855.98v16l13.3 -8z"/>
<path d="M547.96 857.37v16l13.3 -8z"/>
<path d="M548.18 857.56v16l13.3 -8z"/>
<path d="M548.39 857.91v16l13.3 -8z"/>
<path d="M548.74 862.71v16l13.3 -8z"/>
<path d="M549.03 862.24v16l13.3 -8z"/>
<path d="M549.27 862.6v16l13.3 -8z"/>
<path d="M549.5 863.49v16l13.3 -8z"/>
<path d="M549.69 863.68v16l13.3 -8z"/>
<path d="M549.88 864.31v16l13.3 -8z"/>
<path d="M550.06 864.21v16l13.3 -8z"/>
<path d="M550.25 860.81v16l13.3 -8z"/>
<path d="M550.52 865.39v16l13.3 -8z"/>
<path d="M550.76 865.38v16l13.3 -8z"/>
<path d="M551 865.4v16l13.3 -8z"/>
<path d="M551.28 866.35v16l13.3 -8z"/>
<path d="M551.49 866.16v16l13.3 -8z"/>
<path d="M551.84 867.37v16l13.3 -8z"/>
<path d="M552.13 867.4v16l13.3 -8z"/>
<path d="M552.42 868.78v16l13.3 -8z"/>
<path d="M552.7 865.22v16l13.3 -8z"/>
<path d="M552.99 869.3v16l13.3 -8z"/>
<path d="M553.23 865.29v16l13.3 -8z"/>
<path d="M553.57 865.97v16l13.3 -8z"/>
<path d="M553.74 865.94v16l13.3 -8z"/>
<path d="M553.96 866.57v16l13.3 -8z"/>
<path d="M554.15 870.68v16l13.3 -8z"/>
<path d="M554.45 871.21v16l13.3 -8z"/>
<path d="M554.72 871.85v16l13.3 -8z"/>
<path d="M554.98 868.58v16l13.3 -8z"/>
<path d="M555.27 868.94v16l13.3 -8z"/>
<path d="M555.6 873.27v16l13.3 -8z"/>
<path d="M555.92 869.82v16l13.3 -8z"/>
<path d="M556.19 870.77v16l13.3 -8z"/>
<path d="M556.5 870.69v16l13.3 -8z"/>
<path d="M556.73 875.61v16l13.3 -8z"/>
<path d="M556.93 872.2v16l13.3 -8z"/>
<path d="M557.12 875.95v16l13.3 -8z"/>
<path d="M557.3 876.59v16l13.3 -8z"/>
<path d="M557.45 876.34v16l13.3 -8z"/>
<path d="M557.73 876.9v16l13.3 -8z"/>
<path d="M558.02 877.88v16l13.3 -8z"/>
<path d="M558.33 878.91v16l13.3 -8z"/>
<path d="M558.53 874.83v16l13.3 -8z"/>
<path d="M558.75 879.48v16l13.3 -8z"/>
<path d="M559.03 879.53v16l13.3 -8z"/>
<path d="M559.31 876.68v16l13.3 -8z"/>
<path d="M559.44 877.35v16l13.3 -8z"/>
<path d="M560.39 878.17v16l13.3 -8z"/>
<path d="M559.84 878.09v16l13.3 -8z"/>
<path d="M559.73 876.49v16l13.3 -8z"/>
<path d="M561.22 879.88v16l13.3 -8z"/>
<path d="M560.99 878.55v16l13.3 -8z"/>
<path d="M560.82 880.63v16l13.3 -8z"/>
<path d="M560.65 880.67v16l13.3 -8z"/>
<path d="M560.81 879.71v16l13.3 -8z"/>
<path d="M562.65 879.79v16l13.3 -8z"/>
<path d="M561.32 881.47v16l13.3 -8z"/>
<path d="M562.14 881.24v16l13.3 -8z"/>
<path d="M563.22 881.78v16l13.3 -8z"/>
<path d="M563.1 883.66v16l13.3 -8z"/>
<path d="M563.11 884.14v16l13.3 -8z"/>
<path d="M564.05 883v16l13.3 -8z"/>
<path d="M563.12 885.7v16l13.3 -8z"/>
<path d="M563.94 883.64v16l13.3 -8z"/>
<path d="M563.41 885.38v16l13.3 -8z"/>
<path d="M564.55 884.83v16l13.3 -8z"/>
<path d="M564.52 885.47v16l13.3 -8z"/>
<path d="M564.04 884.94v16l13.3 -8z"/>
<path d="M564.81 885.64v16l13.3 -8z"/>
<path d="M565.28 888.74v16l13.3 -8z"/>
<path d="M566.08 887.55v16l13.3 -8z"/>
<path d="M566.23 887.73v16l13.3 -8z"/>
<path d="M565.98 888.8v16l13.3 -8z"/>
<path d="M565.83 890.19v16l13.3 -8z"/>
<path d="M567.33 889.34v16l13.3 -8z"/>
<path d="M567.24 889.17v16l13.3 -8z"/>
<path d="M566.5 889.27v16l13.3 -8z"/>
<path d="M566.97 891.47v16l13.3 -8z"/>
<path d="M567.44 889.64v16l13.3 -8z"/>
<path d="M568.35 889.99v16l13.3 -8z"/>
<path d="M568.4 892.83v16l13.3 -8z"/>
<path d="M568.08 893.43v16l13.3 -8z"/>
<path d="M569.03 894.6v16l13.3 -8z"/>
<path d="M569.5 893.15v16l13.3 -8z"/>
<path d="M568.71 895.24v16l13.3 -8z"/>
<path d="M569.38 893.46v16l13.3 -8z"/>
<path d="M569.3 895.18v16l13.3 -8z"/>
<path d="M569.65 895.73v16l13.3 -8z"/>
<path d="M569.75 896.94v16l13.3 -8z"/>
<path d="M569.69 895.63v16l13.3 -8z"/>
<path d="M570.21 897.43v16l13.3 -8z"/>
<path d="M571.25 896.23v16l13.3 -8z"/>
<path d="M570.57 897.05v16l13.3 -8z"/>
<path d="M570.62 897.96v16l13.3 -8z"/>
<path d="M571.37 898.49v16l13.3 -8z"/>
<path d="M571.57 900.19v16l13.3 -8z"/>
<path d="M572.69 898.27v16l13.3 -8z"/>
<path d="M572.57 901.52v16l13.3 -8z"/>
<path d="M572.74 901.11v16l13.3 -8z"/>
<path d="M572.72 901.36v16l13.3 -8z"/>
<path d="M573.19 900.54v16l13.3 -8z"/>
<path d="M574.5 900.85v16l13.3 -8z"/>
<path d="M573.83 902.87v16l13.3 -8z"/>
<path d="M574.41 903.95v16l13.3 -8z"/>
<path d="M574.75 903.46v16l13.3 -8z"/>
<path d="M574.16 904.99v16l13.3 -8z"/>
<path d="M574.96 905.07v16l13.3 -8z"/>
<path d="M575.05 904.23v16l13.3 -8z"/>
<path d="M575.59 905.64v16l13.3 -8z"/>
<path d="M575.8 905.72v16l13.3 -8z"/>
<path d="M575.99 907.72v16l13.3 -8z"/>
<path d="M575.94 908.25v16l13.3 -8z"/>
<path d="M575.95 908.1v16l13.3 -8z"/>
<path d="M576.41 909.22v16l13.3 -8z"/>
<path d="M577.5 908.42v16l13.3 -8z"/>
<path d="M577.42 909.28v16l13.3 -8z"/>
<path d="M577.71 910.43v16l13.3 -8z"/>
<path d="M578.19 908.74v16l13.3 -8z"/>
<path d="M578.04 909.98v16l13.3 -8z"/>
<path d="M577.9 911.48v16l13.3 -8z"/>
<path d="M577.78 911.38v16l13.3 -8z"/>
<path d="M577.83 912.78v16l13.3 -8z"/>
<path d="M578.78 912.47v16l13.3 -8z"/>
<path d="M579.64 914.7v16l13.3 -8z"/>
<path d="M579.95 915.31v16l13.3 -8z"/>
<path d="M579.23 913.56v16l13.3 -8z"/>
<path d="M579.33 916.15v16l13.3 -8z"/>
<path d="M579.25 914.76v16l13.3 -8z"/>
<path d="M580.61 916.52v16l13.3 -8z"/>
<path d="M579.67 918.32v16l13.3 -8z"/>
<path d="M580.72 918.36v16l13.3 -8z"/>
<path d="M580.29 918.34v16l13.3 -8z"/>
<path d="M580.21 917.83v16l13.3 -8z"/>
<path d="M581.37 918.06v16l13.3 -8z"/>
<path d="M581.72 918.32v16l13.3 -8z"/>
<path d="M581.86 919.51v16l13.3 -8z"/>
<path d="M581.08 921.27v16l13.3 -8z"/>
<path d="M581.71 919.59v16l13.3 -8z"/>
<path d="M582.56 921.94v16l13.3 -8z"/>
<path d="M582.14 921.4v16l13.3 -8z"/>
<path d="M582.8 921.79v16l13.3 -8z"/>
<path d="M582.73 922.54v16l13.3 -8z"/>
<path d="M583.8 922.72v16l13.3 -8z"/>
<path d="M582.93 924.01v16l13.3 -8z"/>
<path d="M584.12 923.54v16l13.3 -8z"/>
<path d="M584.1 924.71v16l13.3 -8z"/>
<path d="M583.94 926.28v16l13.3 -8z"/>
<path d="M584.28 924.8v16l13.3 -8z"/>
<path d="M584.21 926.39v16l13.3 -8z"/>
<path d="M584.54 927.87v16l13.3 -8z"/>
<path d="M584.72 927.6v16l13.3 -8z"/>
<path d="M585.9 927.46v16l13.3 -8z"/>
<path d="M585.22 929.63v16l13.3 -8z"/>
<path d="M585.91 929.47v16l13.3 -8z"/>
<path d="M586.54 928.42v16l13.3 -8z"/>
<path d="M585.89 930.77v16l13.3 -8z"/>
<path d="M586.1 931.88v16l13.3 -8z"/>
<path d="M585.89 931.79v16l13.3 -8z"/>
<path d="M586.64 931.78v16l13.3 -8z"/>
<path d="M587.32 932.62v16l13.3 -8z"/>
<path d="M588.12 934.5v16l13.3 -8z"/>
<path d="M588.05 933.94v16l13.3 -8z"/>
<path d="M588.53 932.81v16l13.3 -8z"/>
<path d="M587.75 935.08v16l13.3 -8z"/>
<path d="M588.83 934.13v16l13.3 -8z"/>
<path d="M587.63 935.14v16l13.3 -8z"/>
<path d="M587.76 935.09v16l13.3 -8z"/>
<path d="M588.83 937.4v16l13.3 -8z"/>
<path d="M588.77 937.08v16l13.3 -8z"/>
<path d="M591.5 944.92v16l13.3 -8z"/>
<path d="M594.22 952.76v16l13.3 -8z"/>
<path d="M596.87 960.63v16l13.3 -8z"/>
<path d="M599.45 968.52v16l13.3 -8z"/>
<path d="M602.03 976.4v16l13.3 -8z"/>
<path d="M604.62 984.29v16l13.3 -8z"/>
<path d="M607.36 992.13v16l13.3 -8z"/>
<path d="M610.11 999.95v16l13.3 -8z"/>
<path d="M612.87 1007.78v16l13.3 -8z"/>
<path d="M615.47 1015.67v16l13.3 -8z"/>
<path d="M617.88 1023.61v16l13.3 -8z"/>
<path d="M620.3 1031.55v16l13.3 -8z"/>
<path d="M622.64 1039.51v16l13.3 -8z"/>
<path d="M624.92 1047.49v16l13.3 -8z"/>
<path d="M627.2 1055.47v16l13.3 -8z"/>
<path d="M629.48 1063.45v16l13.3 -8z"/>
<path d="M631.58 1071.47v16l13.3 -8z"/>
<path d="M632.86 1079.67v16l13.3 -8z"/>
<path d="M634.14 1087.87v16l13.3 -8z"/>
<path d="M635.42 1096.07v16l13.3 -8z"/>
<path d="M637.1 1104.17v16l13.3 -8z"/>
<path d="M639.82 1112.02v16l13.3 -8z"/>
<path d="M642.53 1119.86v16l13.3 -8z"/>
<path d="M645.25 1127.7v16l13.3 -8z"/>
<path d="M647.76 1135.62v16l13.3 -8z"/>
<path d="M650.25 1143.53v16l13.3 -8z"/>
<path d="M652.55 1151.5v16l13.3 -8z"/>
<path d="M654.69 1159.52v16l13.3 -8z"/>
<path d="M656.48 1167.63v16l13.3 -8z"/>
<path d="M658.1 1175.77v16l13.3 -8z"/>
<path d="M659.73 1183.9v16l13.3 -8z"/>
<path d="M661.6 1191.99v16l13.3 -8z"/>
<path d="M663.61 1200.04v16l13.3 -8z"/>
<path d="M665.59 1208.1v16l13.3 -8z"/>
<path d="M667.35 1216.21v16l13.3 -8z"/>
<path d="M669.85 1229.5v16l13.3 -8z"/>
</g></g>
<g><g fill="#B8D3F2" stroke="#6584BE" stroke-width="1.2">
<circle cx="441.62" cy="981.46" r="6.3"/>
<circle cx="443.55" cy="980.38" r="6.3"/>
<circle cx="444.93" cy="980.31" r="6.3"/>
<circle cx="447.7" cy="982.31" r="6.3"/>
<circle cx="449.77" cy="980.61" r="6.3"/>
<circle cx="450.68" cy="981.78" r="6.3"/>
<circle cx="453.04" cy="981.07" r="6.3"/>
<circle cx="455.54" cy="981.59" r="6.3"/>
<circle cx="456.97" cy="981.38" r="6.3"/>
<circle cx="459.09" cy="981.53" r="6.3"/>
<circle cx="460.12" cy="982.48" r="6.3"/>
<circle cx="462.52" cy="983.22" r="6.3"/>
<circle cx="464.42" cy="982.7" r="6.3"/>
<circle cx="466.02" cy="982.51" r="6.3"/>
<circle cx="468.81" cy="983.39" r="6.3"/>
<circle cx="470.81" cy="984.18" r="6.3"/>
<circle cx="472.09" cy="984.38" r="6.3"/>
<circle cx="474.18" cy="984.83" r="6.3"/>
<circle cx="476.91" cy="983.91" r="6.3"/>
<circle cx="479.08" cy="985.02" r="6.3"/>
<circle cx="481.77" cy="984.33" r="6.3"/>
<circle cx="481.85" cy="984.01" r="6.3"/>
<circle cx="485.46" cy="985.38" r="6.3"/>
<circle cx="487.22" cy="984.53" r="6.3"/>
<circle cx="488.82" cy="984.66" r="6.3"/>
<circle cx="489.94" cy="985.59" r="6.3"/>
<circle cx="493.61" cy="986.67" r="6.3"/>
<circle cx="495.34" cy="985.86" r="6.3"/>
<circle cx="496.44" cy="986.31" r="6.3"/>
<circle cx="498.09" cy="986.77" r="6.3"/>
<circle cx="501.37" cy="987.59" r="6.3"/>
<circle cx="502.47" cy="988.63" r="6.3"/>
<circle cx="505.23" cy="989.6" r="6.3"/>
<circle cx="506.55" cy="989.1" r="6.3"/>
<circle cx="509.18" cy="989.27" r="6.3"/>
<circle cx="509.94" cy="990.35" r="6.3"/>
<circle cx="511.8" cy="990.05" r="6.3"/>
<circle cx="513.99" cy="991.03" r="6.3"/>
<circle cx="515.7" cy="991.7" r="6.3"/>
<circle cx="517.74" cy="991.7" r="6.3"/>
<circle cx="520.36" cy="992.48" r="6.3"/>
<circle cx="521.59" cy="994.21" r="6.3"/>
<circle cx="523.18" cy="994.32" r="6.3"/>
<circle cx="524.43" cy="995.38" r="6.3"/>
<circle cx="526.71" cy="996.36" r="6.3"/>
<circle cx="528.39" cy="997.65" r="6.3"/>
<circle cx="530.76" cy="996.93" r="6.3"/>
<circle cx="532.45" cy="999.61" r="6.3"/>
<circle cx="533.5" cy="999.62" r="6.3"/>
<circle cx="538.36" cy="999.6" r="6.3"/>
<circle cx="538.62" cy="1000.38" r="6.3"/>
<circle cx="539.16" cy="1002.2" r="6.3"/>
<circle cx="542.22" cy="1001.8" r="6.3"/>
<circle cx="543.6" cy="1003.58" r="6.3"/>
<circle cx="546.52" cy="1002.43" r="6.3"/>
<circle cx="545.4" cy="1004.2" r="6.3"/>
<circle cx="547.97" cy="1007.49" r="6.3"/>
<circle cx="550.44" cy="1008.67" r="6.3"/>
<circle cx="552.13" cy="1007.03" r="6.3"/>
<circle cx="555.14" cy="1007.05" r="6.3"/>
<circle cx="558.19" cy="1011.36" r="6.3"/>
<circle cx="557" cy="1010.16" r="6.3"/>
<circle cx="560.86" cy="1013.29" r="6.3"/>
<circle cx="561.78" cy="1011.12" r="6.3"/>
<circle cx="564.01" cy="1012.14" r="6.3"/>
<circle cx="565.1" cy="1015.42" r="6.3"/>
<circle cx="568.13" cy="1016.85" r="6.3"/>
<circle cx="565.84" cy="1019.21" r="6.3"/>
<circle cx="570.75" cy="1018.71" r="6.3"/>
<circle cx="569.08" cy="1020.55" r="6.3"/>
<circle cx="572.18" cy="1021.83" r="6.3"/>
<circle cx="575.96" cy="1024.4" r="6.3"/>
<circle cx="573.25" cy="1025.34" r="6.3"/>
<circle cx="576.14" cy="1026.74" r="6.3"/>
<circle cx="577.15" cy="1026.93" r="6.3"/>
<circle cx="578.7" cy="1027.02" r="6.3"/>
<circle cx="579.47" cy="1031.26" r="6.3"/>
<circle cx="579.66" cy="1030.07" r="6.3"/>
<circle cx="584.26" cy="1034.06" r="6.3"/>
<circle cx="584.22" cy="1033.21" r="6.3"/>
<circle cx="583.55" cy="1035.66" r="6.3"/>
<circle cx="588.44" cy="1038.35" r="6.3"/>
<circle cx="589.53" cy="1038.4" r="6.3"/>
<circle cx="588.51" cy="1041.41" r="6.3"/>
<circle cx="591.6" cy="1041.18" r="6.3"/>
<circle cx="592.95" cy="1044.32" r="6.3"/>
<circle cx="590.37" cy="1045.79" r="6.3"/>
<circle cx="593.02" cy="1048.51" r="6.3"/>
<circle cx="596.58" cy="1049.36" r="6.3"/>
<circle cx="596.66" cy="1050.55" r="6.3"/>
<circle cx="598.18" cy="1050.95" r="6.3"/>
<circle cx="599.15" cy="1052.87" r="6.3"/>
<circle cx="599.59" cy="1054.68" r="6.3"/>
<circle cx="599.67" cy="1056.16" r="6.3"/>
<circle cx="600.84" cy="1059.67" r="6.3"/>
<circle cx="602.8" cy="1060.37" r="6.3"/>
<circle cx="604.25" cy="1063.96" r="6.3"/>
<circle cx="604.51" cy="1064.42" r="6.3"/>
<circle cx="606.25" cy="1067.76" r="6.3"/>
<circle cx="606.79" cy="1068.11" r="6.3"/>
<circle cx="607.58" cy="1067.78" r="6.3"/>
<circle cx="610.97" cy="1070.76" r="6.3"/>
<circle cx="610.09" cy="1070.11" r="6.3"/>
<circle cx="613.77" cy="1073.1" r="6.3"/>
<circle cx="614.46" cy="1074.97" r="6.3"/>
<circle cx="615.2" cy="1077.14" r="6.3"/>
<circle cx="617.95" cy="1080.3" r="6.3"/>
<circle cx="616.84" cy="1080.06" r="6.3"/>
<circle cx="617.03" cy="1082.85" r="6.3"/>
<circle cx="617.63" cy="1082.51" r="6.3"/>
<circle cx="622.06" cy="1082.94" r="6.3"/>
<circle cx="622.03" cy="1087.19" r="6.3"/>
<circle cx="622" cy="1088.06" r="6.3"/>
<circle cx="620.87" cy="1092.68" r="6.3"/>
<circle cx="624.19" cy="1093.94" r="6.3"/>
<circle cx="621.88" cy="1095.74" r="6.3"/>
<circle cx="623.03" cy="1095.07" r="6.3"/>
<circle cx="625.05" cy="1098.78" r="6.3"/>
<circle cx="623.85" cy="1101.36" r="6.3"/>
<circle cx="626.5" cy="1103.85" r="6.3"/>
<circle cx="628.64" cy="1104.82" r="6.3"/>
<circle cx="626.96" cy="1107.81" r="6.3"/>
<circle cx="629.3" cy="1106.75" r="6.3"/>
<circle cx="630.69" cy="1110.51" r="6.3"/>
<circle cx="629.43" cy="1110.85" r="6.3"/>
<circle cx="629.72" cy="1113.27" r="6.3"/>
<circle cx="630.97" cy="1114.62" r="6.3"/>
<circle cx="631.75" cy="1116.14" r="6.3"/>
<circle cx="632.99" cy="1118.26" r="6.3"/>
<circle cx="633.37" cy="1120.12" r="6.3"/>
<circle cx="634.6" cy="1123.15" r="6.3"/>
<circle cx="634.68" cy="1124.96" r="6.3"/>
<circle cx="636.69" cy="1126.36" r="6.3"/>
<circle cx="636.62" cy="1128.53" r="6.3"/>
<circle cx="637.16" cy="1130.31" r="6.3"/>
<circle cx="638.48" cy="1132.46" r="6.3"/>
<circle cx="638.82" cy="1136.78" r="6.3"/>
<circle cx="641.83" cy="1143.17" r="6.3"/>
<circle cx="643.81" cy="1148.43" r="6.3"/>
<circle cx="645.82" cy="1154.07" r="6.3"/>
<circle cx="649.06" cy="1160.59" r="6.3"/>
<circle cx="651.3" cy="1165.2" r="6.3"/>
<circle cx="653.68" cy="1169.89" r="6.3"/>
<circle cx="657.58" cy="1175.01" r="6.3"/>
<circle cx="660.25" cy="1181.46" r="6.3"/>
<circle cx="660.67" cy="1187.55" r="6.3"/>
<circle cx="662.84" cy="1192.49" r="6.3"/>
<circle cx="664.98" cy="1198.96" r="6.3"/>
<circle cx="667.47" cy="1204.34" r="6.3"/>
<circle cx="669.17" cy="1209.51" r="6.3"/>
<circle cx="671.42" cy="1213.8" r="6.3"/>
<circle cx="674.22" cy="1221.38" r="6.3"/>
<circle cx="674.78" cy="1227.11" r="6.3"/>
</g></g>
<g><g fill="#C4DFC3" stroke="#72AD3A" stroke-width="1.3">
<rect x="176.36" y="1022" width="9.6" height="9.6"/>
<rect x="181.83" y="1024.2" width="9.6" height="9.6"/>
<rect x="181.12" y="1029.2" width="9.6" height="9.6"/>
<rect x="181.84" y="1034.2" width="9.6" height="9.6"/>
<rect x="181.3" y="1048.2" width="9.6" height="9.6"/>
<rect x="181.84" y="1053.2" width="9.6" height="9.6"/>
<rect x="181.57" y="1059.2" width="9.6" height="9.6"/>
<rect x="202" y="1020.2" width="9.6" height="9.6"/>
<rect x="201.52" y="1025.2" width="9.6" height="9.6"/>
<rect x="202.33" y="1030.2" width="9.6" height="9.6"/>
<rect x="201.87" y="1035.2" width="9.6" height="9.6"/>
<rect x="201.98" y="1041.2" width="9.6" height="9.6"/>
<rect x="201.33" y="1047.2" width="9.6" height="9.6"/>
<rect x="201.98" y="1053.2" width="9.6" height="9.6"/>
<rect x="202.09" y="1059.2" width="9.6" height="9.6"/>
<rect x="219.56" y="1010.2" width="9.6" height="9.6"/>
<rect x="218.9" y="1015.2" width="9.6" height="9.6"/>
<rect x="218.22" y="1020.2" width="9.6" height="9.6"/>
<rect x="218.48" y="1025.2" width="9.6" height="9.6"/>
<rect x="218.54" y="1030.2" width="9.6" height="9.6"/>
<rect x="219.12" y="1035.2" width="9.6" height="9.6"/>
<rect x="219.5" y="1040.2" width="9.6" height="9.6"/>
<rect x="230.46" y="1018.2" width="9.6" height="9.6"/>
<rect x="230.42" y="1025.2" width="9.6" height="9.6"/>
<rect x="230.38" y="1031.2" width="9.6" height="9.6"/>
<rect x="230.27" y="1037.2" width="9.6" height="9.6"/>
<rect x="242.9" y="1021.2" width="9.6" height="9.6"/>
<rect x="241.43" y="1026.2" width="9.6" height="9.6"/>
<rect x="242.18" y="1031.2" width="9.6" height="9.6"/>
<rect x="242.35" y="1037.2" width="9.6" height="9.6"/>
<rect x="242.5" y="1043.2" width="9.6" height="9.6"/>
<rect x="252.38" y="1025.2" width="9.6" height="9.6"/>
<rect x="252.38" y="1030.2" width="9.6" height="9.6"/>
<rect x="252.89" y="1035.2" width="9.6" height="9.6"/>
<rect x="251.54" y="1041.2" width="9.6" height="9.6"/>
<rect x="252.23" y="1046.2" width="9.6" height="9.6"/>
<rect x="258.12" y="1030.71" width="9.6" height="9.6"/>
<rect x="257.72" y="1044.17" width="9.6" height="9.6"/>
<rect x="260.71" y="1030.72" width="9.6" height="9.6"/>
<rect x="260.16" y="1043.68" width="9.6" height="9.6"/>
<rect x="262.78" y="1038.79" width="9.6" height="9.6"/>
<rect x="263.86" y="1042.66" width="9.6" height="9.6"/>
<rect x="265.62" y="1030.62" width="9.6" height="9.6"/>
<rect x="265.44" y="1043.39" width="9.6" height="9.6"/>
<rect x="268.55" y="1044.08" width="9.6" height="9.6"/>
<rect x="268.72" y="1036.18" width="9.6" height="9.6"/>
<rect x="269.89" y="1031.12" width="9.6" height="9.6"/>
<rect x="272.04" y="1035.15" width="9.6" height="9.6"/>
<rect x="272.97" y="1039.44" width="9.6" height="9.6"/>
<rect x="273.77" y="1041.89" width="9.6" height="9.6"/>
<rect x="275.31" y="1034.91" width="9.6" height="9.6"/>
<rect x="277.46" y="1034.04" width="9.6" height="9.6"/>
<rect x="277.3" y="1035.35" width="9.6" height="9.6"/>
<rect x="279.26" y="1043.9" width="9.6" height="9.6"/>
<rect x="280.27" y="1035.24" width="9.6" height="9.6"/>
<rect x="282.21" y="1035.66" width="9.6" height="9.6"/>
<rect x="283.25" y="1035.65" width="9.6" height="9.6"/>
<rect x="285.25" y="1034.59" width="9.6" height="9.6"/>
<rect x="285.26" y="1036.53" width="9.6" height="9.6"/>
<rect x="286.76" y="1043.4" width="9.6" height="9.6"/>
<rect x="288.75" y="1044.49" width="9.6" height="9.6"/>
<rect x="289.78" y="1033.17" width="9.6" height="9.6"/>
<rect x="291.53" y="1035.89" width="9.6" height="9.6"/>
<rect x="291.74" y="1038.68" width="9.6" height="9.6"/>
<rect x="294.58" y="1038.05" width="9.6" height="9.6"/>
<rect x="294.61" y="1046.76" width="9.6" height="9.6"/>
<rect x="297.18" y="1038.33" width="9.6" height="9.6"/>
<rect x="296.77" y="1044.68" width="9.6" height="9.6"/>
<rect x="299.36" y="1037.37" width="9.6" height="9.6"/>
<rect x="300.68" y="1037.94" width="9.6" height="9.6"/>
<rect x="300.97" y="1041.28" width="9.6" height="9.6"/>
<rect x="303.18" y="1039.31" width="9.6" height="9.6"/>
<rect x="304.64" y="1031.83" width="9.6" height="9.6"/>
<rect x="305.3" y="1037.61" width="9.6" height="9.6"/>
<rect x="305.73" y="1046.07" width="9.6" height="9.6"/>
<rect x="307.19" y="1034.64" width="9.6" height="9.6"/>
<rect x="309.96" y="1046.63" width="9.6" height="9.6"/>
<rect x="311.36" y="1036.65" width="9.6" height="9.6"/>
<rect x="312.66" y="1033.36" width="9.6" height="9.6"/>
<rect x="313.53" y="1046.14" width="9.6" height="9.6"/>
<rect x="313.79" y="1033.09" width="9.6" height="9.6"/>
<rect x="316.06" y="1044.95" width="9.6" height="9.6"/>
<rect x="317.45" y="1045.93" width="9.6" height="9.6"/>
<rect x="318.21" y="1036.62" width="9.6" height="9.6"/>
<rect x="318.84" y="1034.94" width="9.6" height="9.6"/>
<rect x="321.78" y="1031.63" width="9.6" height="9.6"/>
<rect x="321.57" y="1035.96" width="9.6" height="9.6"/>
<rect x="322.6" y="1035.22" width="9.6" height="9.6"/>
<rect x="324.17" y="1032.19" width="9.6" height="9.6"/>
<rect x="326.15" y="1038.41" width="9.6" height="9.6"/>
<rect x="327.54" y="1040.02" width="9.6" height="9.6"/>
<rect x="328.75" y="1041.34" width="9.6" height="9.6"/>
<rect x="329.16" y="1035.38" width="9.6" height="9.6"/>
<rect x="330.45" y="1035.91" width="9.6" height="9.6"/>
<rect x="333.12" y="1040.67" width="9.6" height="9.6"/>
<rect x="333.91" y="1034.4" width="9.6" height="9.6"/>
<rect x="334.86" y="1037.5" width="9.6" height="9.6"/>
<rect x="336.09" y="1039.13" width="9.6" height="9.6"/>
<rect x="338.75" y="1036.3" width="9.6" height="9.6"/>
<rect x="339.31" y="1039.23" width="9.6" height="9.6"/>
<rect x="340.33" y="1033.83" width="9.6" height="9.6"/>
<rect x="342.59" y="1039.96" width="9.6" height="9.6"/>
<rect x="342.05" y="1038.08" width="9.6" height="9.6"/>
<rect x="344.1" y="1032.23" width="9.6" height="9.6"/>
<rect x="344.93" y="1034.52" width="9.6" height="9.6"/>
<rect x="346.52" y="1034.66" width="9.6" height="9.6"/>
<rect x="345.54" y="1034.69" width="9.6" height="9.6"/>
<rect x="347.55" y="1035.7" width="9.6" height="9.6"/>
<rect x="347.71" y="1035.57" width="9.6" height="9.6"/>
<rect x="347.22" y="1033.95" width="9.6" height="9.6"/>
<rect x="347.91" y="1034.05" width="9.6" height="9.6"/>
<rect x="348.27" y="1036.13" width="9.6" height="9.6"/>
<rect x="348.94" y="1035.6" width="9.6" height="9.6"/>
<rect x="349.9" y="1035.04" width="9.6" height="9.6"/>
<rect x="349.81" y="1037.08" width="9.6" height="9.6"/>
<rect x="350.71" y="1035.4" width="9.6" height="9.6"/>
<rect x="351.08" y="1035.56" width="9.6" height="9.6"/>
<rect x="351.11" y="1037.19" width="9.6" height="9.6"/>
<rect x="351.37" y="1037.27" width="9.6" height="9.6"/>
<rect x="353.06" y="1037.08" width="9.6" height="9.6"/>
<rect x="352.13" y="1035.73" width="9.6" height="9.6"/>
<rect x="354.22" y="1034.94" width="9.6" height="9.6"/>
<rect x="353.04" y="1036.5" width="9.6" height="9.6"/>
<rect x="353.62" y="1036" width="9.6" height="9.6"/>
<rect x="353.92" y="1037.31" width="9.6" height="9.6"/>
<rect x="354.62" y="1034.25" width="9.6" height="9.6"/>
<rect x="355.87" y="1035.15" width="9.6" height="9.6"/>
<rect x="356.07" y="1035.69" width="9.6" height="9.6"/>
<rect x="357.25" y="1035.75" width="9.6" height="9.6"/>
<rect x="356.61" y="1033.91" width="9.6" height="9.6"/>
<rect x="357.29" y="1034.87" width="9.6" height="9.6"/>
<rect x="357.9" y="1036.17" width="9.6" height="9.6"/>
<rect x="358.12" y="1034.22" width="9.6" height="9.6"/>
<rect x="358.65" y="1035.63" width="9.6" height="9.6"/>
<rect x="359.38" y="1037.39" width="9.6" height="9.6"/>
<rect x="359.11" y="1035.49" width="9.6" height="9.6"/>
<rect x="359.17" y="1036.78" width="9.6" height="9.6"/>
<rect x="359.92" y="1036.88" width="9.6" height="9.6"/>
<rect x="361.5" y="1034.82" width="9.6" height="9.6"/>
<rect x="362.16" y="1035.71" width="9.6" height="9.6"/>
<rect x="361.65" y="1035.9" width="9.6" height="9.6"/>
<rect x="363.14" y="1035.66" width="9.6" height="9.6"/>
<rect x="362.66" y="1034.95" width="9.6" height="9.6"/>
<rect x="363.83" y="1035.71" width="9.6" height="9.6"/>
<rect x="363.28" y="1034.61" width="9.6" height="9.6"/>
<rect x="363.48" y="1036.9" width="9.6" height="9.6"/>
<rect x="365.11" y="1037.42" width="9.6" height="9.6"/>
<rect x="365.78" y="1036.37" width="9.6" height="9.6"/>
<rect x="365.99" y="1036.46" width="9.6" height="9.6"/>
<rect x="366.47" y="1036.78" width="9.6" height="9.6"/>
<rect x="365.65" y="1036.83" width="9.6" height="9.6"/>
<rect x="366.36" y="1034.78" width="9.6" height="9.6"/>
<rect x="368.04" y="1033.98" width="9.6" height="9.6"/>
<rect x="367.67" y="1035.14" width="9.6" height="9.6"/>
<rect x="368.68" y="1036.1" width="9.6" height="9.6"/>
<rect x="369.37" y="1037.26" width="9.6" height="9.6"/>
<rect x="369.29" y="1034.13" width="9.6" height="9.6"/>
<rect x="369.78" y="1034.29" width="9.6" height="9.6"/>
<rect x="370.86" y="1037.04" width="9.6" height="9.6"/>
<rect x="369.97" y="1034.57" width="9.6" height="9.6"/>
<rect x="371.19" y="1036.63" width="9.6" height="9.6"/>
<rect x="372.22" y="1036.14" width="9.6" height="9.6"/>
<rect x="370.95" y="1036.52" width="9.6" height="9.6"/>
<rect x="371.27" y="1037.02" width="9.6" height="9.6"/>
<rect x="373.14" y="1036.73" width="9.6" height="9.6"/>
<rect x="373.8" y="1035.95" width="9.6" height="9.6"/>
<rect x="374.39" y="1036.2" width="9.6" height="9.6"/>
<rect x="373.93" y="1035.28" width="9.6" height="9.6"/>
<rect x="374.11" y="1033.98" width="9.6" height="9.6"/>
<rect x="374.17" y="1036.76" width="9.6" height="9.6"/>
<rect x="374.76" y="1036.25" width="9.6" height="9.6"/>
<rect x="376.3" y="1036.4" width="9.6" height="9.6"/>
<rect x="376.23" y="1035.04" width="9.6" height="9.6"/>
<rect x="376.2" y="1034.57" width="9.6" height="9.6"/>
<rect x="377.4" y="1036.37" width="9.6" height="9.6"/>
<rect x="378.43" y="1034.41" width="9.6" height="9.6"/>
<rect x="379.7" y="1039.31" width="9.6" height="9.6"/>
<rect x="379.73" y="1039.89" width="9.6" height="9.6"/>
<rect x="381.69" y="1040.23" width="9.6" height="9.6"/>
<rect x="383.3" y="1035.45" width="9.6" height="9.6"/>
<rect x="383.61" y="1037.21" width="9.6" height="9.6"/>
<rect x="385.33" y="1033.57" width="9.6" height="9.6"/>
<rect x="387.38" y="1037.82" width="9.6" height="9.6"/>
<rect x="387.9" y="1039.75" width="9.6" height="9.6"/>
<rect x="388.75" y="1035.64" width="9.6" height="9.6"/>
<rect x="390.71" y="1036.23" width="9.6" height="9.6"/>
<rect x="391.51" y="1035.11" width="9.6" height="9.6"/>
<rect x="392.25" y="1037.64" width="9.6" height="9.6"/>
<rect x="394.5" y="1042.65" width="9.6" height="9.6"/>
<rect x="396.03" y="1038.74" width="9.6" height="9.6"/>
<rect x="398.56" y="1037.7" width="9.6" height="9.6"/>
<rect x="401.7" y="1041.17" width="9.6" height="9.6"/>
<rect x="403.99" y="1038.39" width="9.6" height="9.6"/>
<rect x="408.12" y="1039.88" width="9.6" height="9.6"/>
<rect x="410.86" y="1039.13" width="9.6" height="9.6"/>
<rect x="414.63" y="1040.29" width="9.6" height="9.6"/>
<rect x="416.25" y="1038.16" width="9.6" height="9.6"/>
<rect x="420.74" y="1037.61" width="9.6" height="9.6"/>
<rect x="422.13" y="1038.32" width="9.6" height="9.6"/>
<rect x="424.86" y="1034.76" width="9.6" height="9.6"/>
<rect x="428.85" y="1034.89" width="9.6" height="9.6"/>
<rect x="432.19" y="1036.69" width="9.6" height="9.6"/>
<rect x="434.39" y="1036.41" width="9.6" height="9.6"/>
<rect x="438.05" y="1035.62" width="9.6" height="9.6"/>
<rect x="440.66" y="1033.9" width="9.6" height="9.6"/>
<rect x="442.96" y="1034.31" width="9.6" height="9.6"/>
<rect x="447.66" y="1036.58" width="9.6" height="9.6"/>
<rect x="448.86" y="1032.69" width="9.6" height="9.6"/>
<rect x="452.29" y="1036.01" width="9.6" height="9.6"/>
<rect x="455.63" y="1033.45" width="9.6" height="9.6"/>
<rect x="458.6" y="1036.28" width="9.6" height="9.6"/>
<rect x="462.24" y="1036.03" width="9.6" height="9.6"/>
<rect x="465.05" y="1038.02" width="9.6" height="9.6"/>
<rect x="467.98" y="1035.44" width="9.6" height="9.6"/>
<rect x="471.17" y="1036.45" width="9.6" height="9.6"/>
<rect x="472.86" y="1038.78" width="9.6" height="9.6"/>
<rect x="475.78" y="1037.72" width="9.6" height="9.6"/>
<rect x="478.33" y="1039.57" width="9.6" height="9.6"/>
<rect x="479.56" y="1041.77" width="9.6" height="9.6"/>
<rect x="482.85" y="1040.17" width="9.6" height="9.6"/>
<rect x="484.13" y="1039.75" width="9.6" height="9.6"/>
<rect x="486.72" y="1039.23" width="9.6" height="9.6"/>
<rect x="487.16" y="1039.9" width="9.6" height="9.6"/>
<rect x="490.08" y="1041.31" width="9.6" height="9.6"/>
<rect x="490.97" y="1041.13" width="9.6" height="9.6"/>
<rect x="493.72" y="1040.83" width="9.6" height="9.6"/>
<rect x="495.33" y="1042.9" width="9.6" height="9.6"/>
<rect x="496.45" y="1041.79" width="9.6" height="9.6"/>
<rect x="498.22" y="1042.41" width="9.6" height="9.6"/>
<rect x="499.78" y="1043.35" width="9.6" height="9.6"/>
<rect x="501.77" y="1042.34" width="9.6" height="9.6"/>
<rect x="504.3" y="1043.21" width="9.6" height="9.6"/>
<rect x="505.5" y="1045.26" width="9.6" height="9.6"/>
<rect x="507.26" y="1043.97" width="9.6" height="9.6"/>
<rect x="509.95" y="1047.09" width="9.6" height="9.6"/>
<rect x="511.52" y="1045.52" width="9.6" height="9.6"/>
<rect x="513.09" y="1047.6" width="9.6" height="9.6"/>
<rect x="514.14" y="1048.25" width="9.6" height="9.6"/>
<rect x="517.25" y="1048.7" width="9.6" height="9.6"/>
<rect x="518.49" y="1048.54" width="9.6" height="9.6"/>
<rect x="520.26" y="1048.43" width="9.6" height="9.6"/>
<rect x="522.29" y="1050.41" width="9.6" height="9.6"/>
<rect x="524.51" y="1050.34" width="9.6" height="9.6"/>
<rect x="525.77" y="1049.76" width="9.6" height="9.6"/>
<rect x="526.98" y="1053.48" width="9.6" height="9.6"/>
<rect x="528.47" y="1053.33" width="9.6" height="9.6"/>
<rect x="530.19" y="1052.83" width="9.6" height="9.6"/>
<rect x="533.54" y="1052.38" width="9.6" height="9.6"/>
<rect x="535.18" y="1052.2" width="9.6" height="9.6"/>
<rect x="536.32" y="1055.6" width="9.6" height="9.6"/>
<rect x="538.62" y="1054.24" width="9.6" height="9.6"/>
<rect x="539.93" y="1055.89" width="9.6" height="9.6"/>
<rect x="542.07" y="1056.39" width="9.6" height="9.6"/>
<rect x="543.51" y="1054.77" width="9.6" height="9.6"/>
<rect x="545.56" y="1056.37" width="9.6" height="9.6"/>
<rect x="547.04" y="1058.44" width="9.6" height="9.6"/>
<rect x="548.02" y="1057.97" width="9.6" height="9.6"/>
<rect x="550.2" y="1058.16" width="9.6" height="9.6"/>
<rect x="553.25" y="1056.87" width="9.6" height="9.6"/>
<rect x="554.28" y="1058.4" width="9.6" height="9.6"/>
<rect x="555.94" y="1057.47" width="9.6" height="9.6"/>
<rect x="558" y="1060.89" width="9.6" height="9.6"/>
<rect x="559.88" y="1058.99" width="9.6" height="9.6"/>
<rect x="561.96" y="1060.02" width="9.6" height="9.6"/>
<rect x="562.44" y="1061.28" width="9.6" height="9.6"/>
<rect x="564.87" y="1061.49" width="9.6" height="9.6"/>
<rect x="567.73" y="1062.16" width="9.6" height="9.6"/>
<rect x="569.46" y="1061.81" width="9.6" height="9.6"/>
<rect x="570.87" y="1061.22" width="9.6" height="9.6"/>
<rect x="571.75" y="1064.65" width="9.6" height="9.6"/>
<rect x="574.33" y="1066.41" width="9.6" height="9.6"/>
<rect x="575.51" y="1065.41" width="9.6" height="9.6"/>
<rect x="577.27" y="1067.69" width="9.6" height="9.6"/>
<rect x="578.4" y="1068.26" width="9.6" height="9.6"/>
<rect x="581.46" y="1068.57" width="9.6" height="9.6"/>
<rect x="582.57" y="1072.69" width="9.6" height="9.6"/>
<rect x="585.62" y="1071.42" width="9.6" height="9.6"/>
<rect x="585.91" y="1072.16" width="9.6" height="9.6"/>
<rect x="587.52" y="1076.22" width="9.6" height="9.6"/>
<rect x="590.63" y="1075.46" width="9.6" height="9.6"/>
<rect x="591.93" y="1078.54" width="9.6" height="9.6"/>
<rect x="592.81" y="1080.38" width="9.6" height="9.6"/>
<rect x="596.27" y="1079.35" width="9.6" height="9.6"/>
<rect x="599.96" y="1084.8" width="9.6" height="9.6"/>
<rect x="607.2" y="1091.2" width="9.6" height="9.6"/>
<rect x="615.1" y="1097.4" width="9.6" height="9.6"/>
<rect x="619.2" y="1103.2" width="9.6" height="9.6"/>
<rect x="624.2" y="1118.1" width="9.6" height="9.6"/>
<rect x="627.2" y="1113.2" width="9.6" height="9.6"/>
<rect x="636.5" y="1128.8" width="9.6" height="9.6"/>
<rect x="641.2" y="1144.2" width="9.6" height="9.6"/>
<rect x="650.2" y="1154.9" width="9.6" height="9.6"/>
<rect x="656.5" y="1173.3" width="9.6" height="9.6"/>
<rect x="659.6" y="1185.6" width="9.6" height="9.6"/>
<rect x="663.4" y="1188.6" width="9.6" height="9.6"/>
<rect x="668.8" y="1182.5" width="9.6" height="9.6"/>
</g></g>
<text x="63.67" y="827.60" font-family='"Liberation Sans", sans-serif' font-size="28" fill="#000">10</text><path d="M64.60 824.71H70.61V828.70H64.60z M73.28 824.71H79.06V828.70H73.28z" fill="#fff"/><text x="95.67" y="813.90" font-family='"Liberation Sans", sans-serif' font-size="22.5" fill="#000">2</text>
<text x="63.67" y="1107.60" font-family='"Liberation Sans", sans-serif' font-size="28" fill="#000">10</text><path d="M64.60 1104.71H70.61V1108.70H64.60z M73.28 1104.71H79.06V1108.70H73.28z" fill="#fff"/><text x="95.69" y="1093.30" font-family='"Liberation Sans", sans-serif' font-size="22.5" fill="#000">1</text><path d="M96.20 1090.82H101.24V1094.40H96.20z M103.43 1090.82H108.29V1094.40H103.43z" fill="#fff"/>
<text x="90.67" y="1283.60" font-family='"Liberation Sans", sans-serif' font-size="28" fill="#000">10</text><path d="M91.60 1280.71H97.61V1284.70H91.60z M100.28 1280.71H106.06V1284.70H100.28z" fill="#fff"/><text x="122.80" y="1269.60" font-family='"Liberation Sans", sans-serif' font-size="22.5" fill="#000">-1</text><path d="M130.80 1267.12H135.85V1270.70H130.80z M138.04 1267.12H142.90V1270.70H138.04z" fill="#fff"/>
<text x="338.27" y="1283.60" font-family='"Liberation Sans", sans-serif' font-size="28" fill="#000">10</text><path d="M339.20 1280.71H345.21V1284.70H339.20z M347.88 1280.71H353.66V1284.70H347.88z" fill="#fff"/><text x="370.22" y="1269.60" font-family='"Liberation Sans", sans-serif' font-size="22.5" fill="#000">0</text>
<text x="580.67" y="1283.60" font-family='"Liberation Sans", sans-serif' font-size="28" fill="#000">10</text><path d="M581.60 1280.71H587.61V1284.70H581.60z M590.28 1280.71H596.06V1284.70H590.28z" fill="#fff"/><text x="613.99" y="1269.60" font-family='"Liberation Sans", sans-serif' font-size="22.5" fill="#000">1</text><path d="M614.50 1267.12H619.54V1270.70H614.50z M621.73 1267.12H626.59V1270.70H621.73z" fill="#fff"/>
<text x="349.95" y="1325.80" font-family='"Liberation Serif", serif' font-size="42" fill="#000" font-style="italic">T</text>
<text x="385.86" y="1325.80" font-family='"Liberation Sans", sans-serif' font-size="42.5" fill="#000">(K)</text>
<g transform="translate(30.60,0) rotate(-90)"><text x="-1101.01" y="0.00" font-family='"Liberation Serif", serif' font-size="45" fill="#000" font-weight="bold" font-style="italic">κ</text><text x="-1076.63" y="8.50" font-family='"Liberation Serif", serif' font-size="31" fill="#000" font-weight="bold" font-style="italic">e</text><text x="-1053.96" y="0.00" font-family='"Liberation Serif", serif' font-size="42" fill="#000" font-weight="bold" font-style="italic">/</text><text x="-1041.26" y="0.00" font-family='"Liberation Serif", serif' font-size="42" fill="#000" font-weight="bold" font-style="italic">T</text><text x="-1000.04" y="0.00" font-family='"Liberation Sans", sans-serif' font-size="42.5" fill="#000">(W.K</text><text x="-911.14" y="-11.40" font-family='"Liberation Sans", sans-serif' font-size="23.5" fill="#000">-2</text><text x="-887.58" y="0.00" font-family='"Liberation Sans", sans-serif' font-size="42.5" fill="#000">.m</text><text x="-839.84" y="-11.40" font-family='"Liberation Sans", sans-serif' font-size="23.5" fill="#000">-1</text><path d="M-831.43 -13.96H-826.21V-10.30H-831.43z M-823.93 -13.96H-818.90V-10.30H-823.93z" fill="#fff"/><text x="-813.85" y="0.00" font-family='"Liberation Sans", sans-serif' font-size="42.5" fill="#000">)</text></g>
<text x="121.66" y="710.20" font-family='"Liberation Sans", sans-serif' font-size="37" fill="#000" font-weight="bold">b</text>
<g fill="#666666" font-family='"Liberation Serif", serif'><text x="628.5" y="730.6" font-size="22">(</text><text x="637" y="722.6" font-size="13" font-style="italic">L<tspan font-style="normal" font-size="10" dy="2">0</tspan></text><rect x="637" y="724.6" width="14" height="0.9"/><text x="637.5" y="735.6" font-size="13" font-style="italic">ρ<tspan font-style="normal" font-size="10" dy="1">0</tspan></text><text x="652.5" y="730.6" font-size="22">)</text><text x="660" y="731.6" font-size="16" font-style="italic">S3</text></g>
<g fill="#A2142F" font-family='"Liberation Serif", serif'><text x="628.5" y="801.4" font-size="22">(</text><text x="637" y="793.4" font-size="13" font-style="italic">L<tspan font-style="normal" font-size="10" dy="2">0</tspan></text><rect x="637" y="795.4" width="14" height="0.9"/><text x="637.5" y="806.4" font-size="13" font-style="italic">ρ<tspan font-style="normal" font-size="10" dy="1">0</tspan></text><text x="652.5" y="801.4" font-size="22">)</text><text x="660" y="802.4" font-size="16" font-style="italic">S4</text></g>
<g fill="#0072BD" font-family='"Liberation Serif", serif'><text x="628.5" y="969.5" font-size="22">(</text><text x="637" y="961.5" font-size="13" font-style="italic">L<tspan font-style="normal" font-size="10" dy="2">0</tspan></text><rect x="637" y="963.5" width="14" height="0.9"/><text x="637.5" y="974.5" font-size="13" font-style="italic">ρ<tspan font-style="normal" font-size="10" dy="1">0</tspan></text><text x="652.5" y="969.5" font-size="22">)</text><text x="660" y="970.5" font-size="16" font-style="italic">S2</text></g>
<g fill="#77AC30" font-family='"Liberation Serif", serif'><text x="628.5" y="1029.7" font-size="22">(</text><text x="637" y="1021.7" font-size="13" font-style="italic">L<tspan font-style="normal" font-size="10" dy="2">0</tspan></text><rect x="637" y="1023.7" width="14" height="0.9"/><text x="637.5" y="1034.7" font-size="13" font-style="italic">ρ<tspan font-style="normal" font-size="10" dy="1">0</tspan></text><text x="652.5" y="1029.7" font-size="22">)</text><text x="660" y="1030.7" font-size="16" font-style="italic">S1</text></g>
<line x1="137.4" y1="1106.6" x2="168" y2="1106.6" stroke="#9FCB77" stroke-width="1.3"/>
<rect x="150.1" y="1101.8" width="9.6" height="9.6" fill="#C4DFC3" stroke="#72AD3A" stroke-width="1.3"/>
<line x1="137.4" y1="1141.9" x2="168" y2="1141.9" stroke="#7F98CC" stroke-width="1.3"/>
<circle cx="154.4" cy="1141.9" r="5.8" fill="#B8D3F2" stroke="#6584BE" stroke-width="1.2"/>
<line x1="137.4" y1="1177.8" x2="168" y2="1177.8" stroke="#4D4D4D" stroke-width="1.3"/>
<path d="M151.4 1171v13.6l11.4 -6.8z" fill="#D9D9D9" stroke="#4D4D4D" stroke-width="1.3"/>
<line x1="137.4" y1="1213.6" x2="168" y2="1213.6" stroke="#A97676" stroke-width="1.3"/>
<path d="M155 1205.4l5.8 8.2l-5.8 8.2l-5.8 -8.2z" fill="#EDD3D3" stroke="#9E5A5A" stroke-width="1.3"/>
<text x="174.86" y="1113.40" font-family='"Liberation Serif", serif' font-size="29" fill="#000">S1</text>
<text x="174.86" y="1148.70" font-family='"Liberation Serif", serif' font-size="29" fill="#000">S2</text>
<text x="174.86" y="1184.60" font-family='"Liberation Serif", serif' font-size="29" fill="#000">S3</text>
<text x="174.86" y="1220.40" font-family='"Liberation Serif", serif' font-size="29" fill="#000">S4</text>
</svg></body></html>
